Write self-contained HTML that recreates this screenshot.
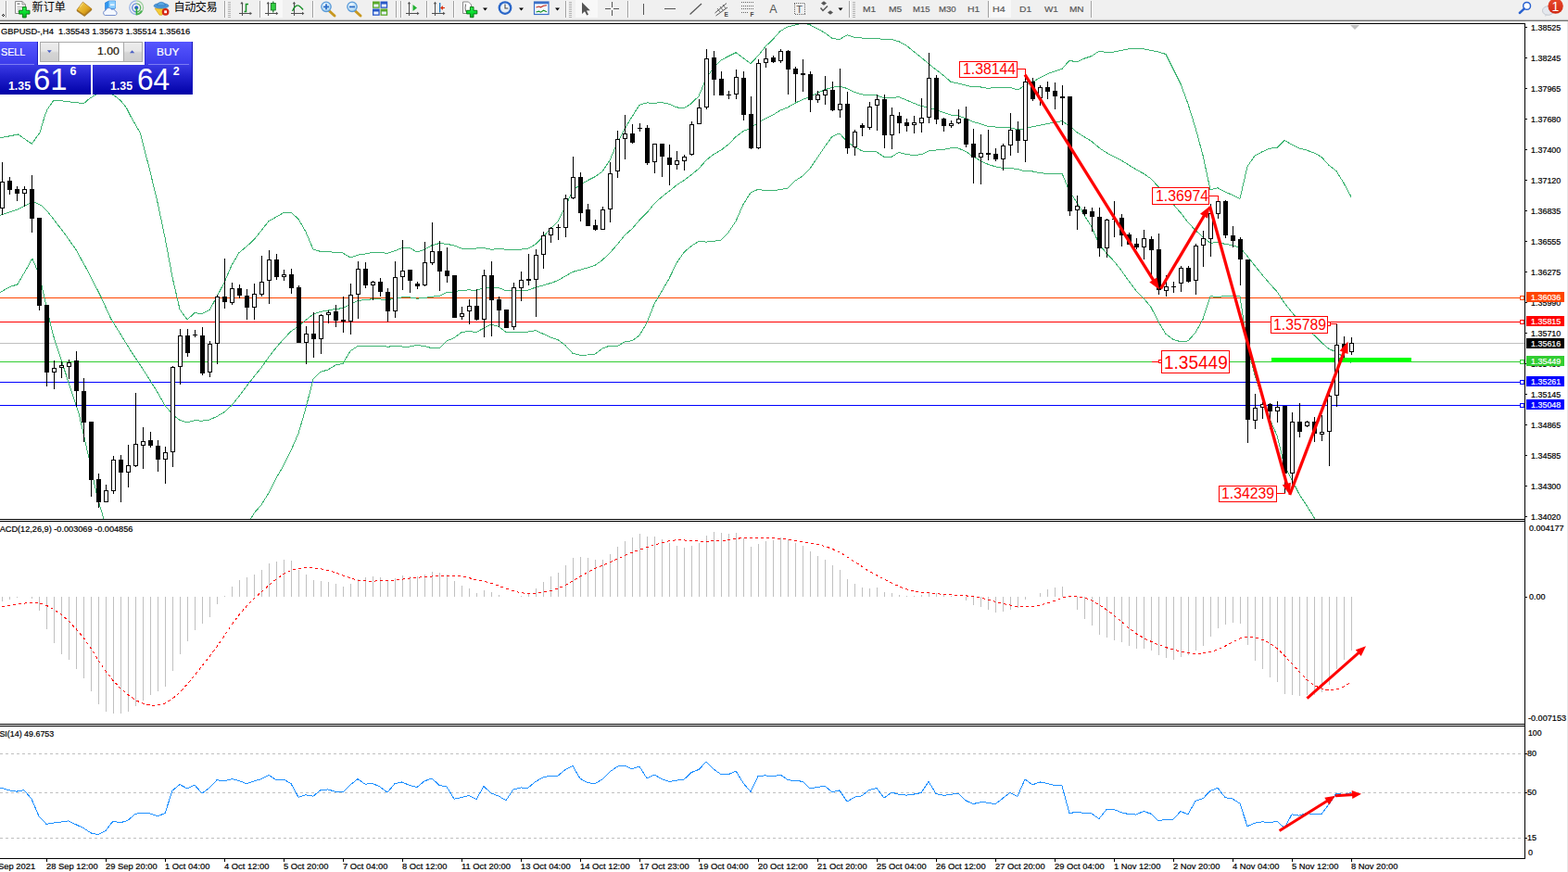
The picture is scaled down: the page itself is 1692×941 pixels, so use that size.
<!DOCTYPE html>
<html><head><meta charset="utf-8"><title>GBPUSD H4</title>
<style>
html,body{margin:0;padding:0;background:#fff;}
body{width:1692px;height:941px;position:relative;overflow:hidden;font-family:"Liberation Sans",sans-serif;}
.t{position:absolute;white-space:nowrap;font-family:"Liberation Sans",sans-serif;-webkit-text-stroke:0.2px currentColor;}
svg{position:absolute;left:0;top:0;}
#tb{position:absolute;left:0;top:0;width:1692px;height:23px;background:linear-gradient(#f0f0f0 0,#f0f0f0 20px,#ebebeb 20px,#ebebeb 21px,#c2c2c2 21px,#c2c2c2 22px,#6e6e6e 22px,#6e6e6e 23px);}
</style></head><body>
<div id="tb"></div>
<svg width="1692" height="941" viewBox="0 0 1692 941">
<g shape-rendering="crispEdges">
<rect x="0" y="23" width="1692" height="918" fill="#fff"/>
<rect x="1691" y="23" width="1" height="918" fill="#e6e6e6"/>
<rect x="0" y="25" width="1646" height="1" fill="#000"/>
<rect x="0" y="560" width="1646" height="1" fill="#000"/>
<rect x="0" y="562" width="1646" height="1" fill="#000"/>
<rect x="0" y="781" width="1646" height="1" fill="#000"/>
<rect x="0" y="783" width="1646" height="1" fill="#000"/>
<rect x="0" y="926" width="1646" height="1" fill="#000"/>
<rect x="1645" y="25" width="1" height="902" fill="#000"/>
<rect x="0" y="370" width="1645" height="1" fill="#C0C0C0"/>
<rect x="0" y="321" width="1645" height="1" fill="#FF4500"/>
<rect x="0" y="347" width="1645" height="1" fill="#FF0000"/>
<rect x="0" y="390" width="1645" height="1" fill="#32CD32"/>
<rect x="0" y="412" width="1645" height="1" fill="#0000FF"/>
<rect x="0" y="437" width="1645" height="1" fill="#0000FF"/>
</g>
<clipPath id="cm"><rect x="0" y="26" width="1645" height="534"/></clipPath>
<g clip-path="url(#cm)" fill="none" stroke="#3CB371" stroke-width="1" shape-rendering="crispEdges">
<path d="M0.0,148.9 L19.6,145.0 L34.2,155.3 L43.0,143.0 L48.4,124.8 L51.3,117.7 L57.3,109.2 L58.4,108.3 L62.6,108.3 L70.8,109.4 L78.9,110.4 L90.6,111.5 L96.7,106.3 L99.9,104.2 L106.0,101.0 L112.0,100.0 L119.0,101.0 L125.0,104.2 L130.7,109.2 L136.4,116.3 L140.6,124.8 L151.6,144.0 L154.0,154.0 L162.0,185.1 L170.0,218.5 L178.0,256.2 L186.0,299.0 L194.0,333.9 L202.0,345.0 L210.0,337.7 L218.0,338.5 L226.0,334.6 L234.0,320.2 L242.0,304.9 L250.0,286.2 L258.0,272.6 L266.0,266.1 L274.0,258.7 L282.0,248.7 L290.0,238.6 L298.0,234.2 L306.0,229.5 L314.0,229.1 L322.0,236.4 L330.0,250.2 L338.0,269.3 L346.0,271.4 L354.0,271.2 L362.0,272.7 L370.0,273.0 L378.0,278.0 L386.0,275.2 L394.0,274.0 L402.0,272.3 L410.0,272.7 L418.0,273.2 L426.0,270.6 L434.0,267.7 L442.0,267.5 L450.0,271.9 L458.0,269.3 L466.0,264.7 L474.0,262.6 L482.0,263.3 L490.0,264.9 L498.0,268.1 L506.0,268.5 L514.0,268.0 L522.0,267.6 L530.0,269.2 L538.0,268.7 L546.0,269.1 L554.0,269.3 L562.0,269.1 L570.0,268.2 L578.0,263.6 L586.0,255.5 L594.0,247.1 L602.0,238.9 L610.0,223.3 L618.0,205.5 L626.0,199.5 L634.0,194.8 L642.0,190.7 L650.0,185.1 L658.0,173.0 L666.0,154.4 L674.0,139.2 L682.0,126.0 L690.0,113.3 L698.0,110.9 L706.0,111.3 L714.0,110.6 L722.0,112.2 L730.0,115.8 L738.0,116.9 L746.0,111.6 L754.0,103.8 L762.0,84.8 L770.0,72.7 L778.0,65.1 L786.0,60.7 L794.0,56.7 L802.0,62.5 L810.0,68.6 L818.0,60.2 L826.0,50.2 L834.0,42.5 L842.0,33.6 L850.0,28.8 L858.0,27.1 L866.0,24.9 L874.0,26.8 L882.0,30.9 L890.0,35.4 L898.0,41.3 L906.0,42.6 L914.0,37.8 L922.0,40.3 L930.0,41.0 L938.0,41.3 L946.0,41.5 L954.0,42.5 L962.0,42.5 L970.0,44.8 L978.0,49.1 L986.0,55.6 L994.0,62.0 L1002.0,68.8 L1010.0,75.1 L1018.0,81.3 L1026.0,88.3 L1034.0,90.1 L1042.0,91.9 L1050.0,93.9 L1058.0,93.9 L1066.0,95.4 L1074.0,94.3 L1082.0,94.2 L1090.0,94.3 L1098.0,97.1 L1106.0,92.5 L1114.0,88.7 L1122.0,84.0 L1130.0,79.9 L1138.0,76.9 L1146.0,74.4 L1154.0,65.3 L1162.0,66.9 L1170.0,63.2 L1178.0,60.5 L1186.0,55.2 L1194.0,56.4 L1202.0,56.1 L1210.0,54.3 L1218.0,52.9 L1226.0,52.3 L1234.0,52.7 L1242.0,54.5 L1250.0,55.9 L1258.0,58.5 L1266.0,74.5 L1274.0,90.5 L1282.0,112.2 L1290.0,138.0 L1298.0,167.5 L1306.0,204.7 L1314.0,202.7 L1322.0,207.1 L1330.0,210.5 L1338.0,214.4 L1346.0,179.6 L1354.0,168.1 L1362.0,163.8 L1370.0,160.2 L1378.0,159.4 L1386.0,151.5 L1394.0,156.0 L1402.0,160.1 L1410.0,162.1 L1418.0,165.0 L1426.0,169.4 L1434.0,178.4 L1442.0,184.5 L1450.0,197.5 L1458.0,212.4"/>
<path d="M0.0,232.3 L9.0,229.5 L18.7,226.0 L27.0,222.0 L34.9,217.8 L38.0,218.3 L45.0,222.0 L51.0,228.0 L57.8,236.5 L70.0,252.5 L81.6,268.8 L95.0,293.0 L108.8,320.0 L119.4,343.4 L142.0,380.0 L154.0,398.1 L162.0,410.5 L170.0,423.5 L178.0,437.5 L186.0,447.1 L194.0,453.4 L202.0,455.9 L210.0,453.8 L218.0,454.1 L226.0,453.0 L234.0,449.4 L242.0,444.7 L250.0,437.4 L258.0,427.5 L266.0,417.0 L274.0,406.4 L282.0,396.8 L290.0,385.3 L298.0,375.1 L306.0,365.9 L314.0,357.6 L322.0,352.1 L330.0,345.3 L338.0,339.2 L346.0,336.4 L354.0,335.1 L362.0,333.4 L370.0,332.7 L378.0,328.4 L386.0,324.4 L394.0,323.7 L402.0,322.7 L410.0,322.9 L418.0,323.7 L426.0,322.1 L434.0,320.8 L442.0,320.8 L450.0,322.2 L458.0,321.4 L466.0,320.2 L474.0,319.3 L482.0,315.7 L490.0,314.8 L498.0,313.3 L506.0,312.9 L514.0,313.3 L522.0,310.9 L530.0,309.7 L538.0,310.5 L546.0,313.7 L554.0,313.9 L562.0,313.7 L570.0,313.1 L578.0,310.1 L586.0,307.9 L594.0,305.6 L602.0,302.8 L610.0,298.0 L618.0,293.4 L626.0,291.3 L634.0,288.9 L642.0,286.4 L650.0,280.6 L658.0,273.0 L666.0,264.0 L674.0,254.0 L682.0,246.9 L690.0,237.6 L698.0,229.7 L706.0,219.7 L714.0,212.6 L722.0,206.4 L730.0,199.9 L738.0,194.6 L746.0,188.6 L754.0,182.1 L762.0,172.9 L770.0,166.5 L778.0,162.1 L786.0,155.8 L794.0,147.7 L802.0,141.5 L810.0,138.2 L818.0,132.3 L826.0,127.9 L834.0,124.1 L842.0,119.1 L850.0,116.0 L858.0,111.2 L866.0,107.5 L874.0,104.4 L882.0,100.6 L890.0,96.8 L898.0,94.3 L906.0,93.2 L914.0,95.4 L922.0,99.3 L930.0,101.9 L938.0,102.5 L946.0,102.7 L954.0,105.9 L962.0,105.9 L970.0,104.6 L978.0,107.9 L986.0,111.4 L994.0,114.4 L1002.0,115.9 L1010.0,118.6 L1018.0,121.4 L1026.0,124.0 L1034.0,125.0 L1042.0,127.7 L1050.0,131.3 L1058.0,133.7 L1066.0,136.4 L1074.0,137.0 L1082.0,137.8 L1090.0,137.9 L1098.0,139.8 L1106.0,138.8 L1114.0,136.8 L1122.0,135.3 L1130.0,133.6 L1138.0,132.1 L1146.0,130.7 L1154.0,135.8 L1162.0,142.6 L1170.0,147.7 L1178.0,152.6 L1186.0,159.4 L1194.0,164.8 L1202.0,168.9 L1210.0,173.1 L1218.0,178.0 L1226.0,183.0 L1234.0,187.3 L1242.0,192.9 L1250.0,201.6 L1258.0,209.4 L1266.0,220.5 L1274.0,229.6 L1282.0,240.1 L1290.0,248.4 L1298.0,256.0 L1306.0,262.2 L1314.0,261.7 L1322.0,263.3 L1330.0,264.8 L1338.0,267.1 L1346.0,276.4 L1354.0,286.6 L1362.0,296.5 L1370.0,306.0 L1378.0,314.7 L1386.0,327.0 L1394.0,336.9 L1402.0,346.7 L1410.0,353.8 L1418.0,361.7 L1426.0,369.6 L1434.0,376.5 L1442.0,379.9 L1450.0,385.6 L1458.0,391.3"/>
<path d="M0.0,315.6 L10.2,309.7 L18.7,307.0 L27.0,293.0 L34.9,279.0 L40.0,291.0 L45.0,308.0 L47.6,320.0 L57.0,360.4 L68.0,394.5 L85.0,445.7 L96.6,497.0 L105.0,536.7 L111.0,556.6 L125.0,610.0 L154.0,634.5 L162.0,631.8 L170.0,628.4 L178.0,618.7 L186.0,595.1 L194.0,572.8 L202.0,566.7 L210.0,570.0 L218.0,569.7 L226.0,571.4 L234.0,578.7 L242.0,584.4 L250.0,588.6 L258.0,582.4 L266.0,567.9 L274.0,554.0 L282.0,544.8 L290.0,531.9 L298.0,516.0 L306.0,502.3 L314.0,486.1 L322.0,467.8 L330.0,440.4 L338.0,409.1 L346.0,401.3 L354.0,399.0 L362.0,394.0 L370.0,392.4 L378.0,378.9 L386.0,373.5 L394.0,373.4 L402.0,373.1 L410.0,373.1 L418.0,374.2 L426.0,373.6 L434.0,374.0 L442.0,374.0 L450.0,372.5 L458.0,373.5 L466.0,375.7 L474.0,375.9 L482.0,368.0 L490.0,364.6 L498.0,358.6 L506.0,357.3 L514.0,358.6 L522.0,354.1 L530.0,350.1 L538.0,352.3 L546.0,358.3 L554.0,358.4 L562.0,358.4 L570.0,358.0 L578.0,356.6 L586.0,360.2 L594.0,364.1 L602.0,366.7 L610.0,372.7 L618.0,381.3 L626.0,383.2 L634.0,383.0 L642.0,382.1 L650.0,376.1 L658.0,373.1 L666.0,373.7 L674.0,368.9 L682.0,367.8 L690.0,361.9 L698.0,348.4 L706.0,328.0 L714.0,314.6 L722.0,300.7 L730.0,284.1 L738.0,272.3 L746.0,265.5 L754.0,260.3 L762.0,261.1 L770.0,260.3 L778.0,259.1 L786.0,250.8 L794.0,238.7 L802.0,220.6 L810.0,207.8 L818.0,204.4 L826.0,205.6 L834.0,205.6 L842.0,204.7 L850.0,203.1 L858.0,195.2 L866.0,190.0 L874.0,181.9 L882.0,170.3 L890.0,158.2 L898.0,147.3 L906.0,143.9 L914.0,153.0 L922.0,158.4 L930.0,162.9 L938.0,163.7 L946.0,164.0 L954.0,169.3 L962.0,169.3 L970.0,164.3 L978.0,166.7 L986.0,167.3 L994.0,166.8 L1002.0,163.0 L1010.0,162.0 L1018.0,161.5 L1026.0,159.7 L1034.0,159.9 L1042.0,163.4 L1050.0,168.8 L1058.0,173.4 L1066.0,177.3 L1074.0,179.8 L1082.0,181.3 L1090.0,181.5 L1098.0,182.4 L1106.0,185.0 L1114.0,184.9 L1122.0,186.6 L1130.0,187.4 L1138.0,187.3 L1146.0,187.1 L1154.0,206.2 L1162.0,218.4 L1170.0,232.2 L1178.0,244.8 L1186.0,263.6 L1194.0,273.3 L1202.0,281.8 L1210.0,291.8 L1218.0,303.2 L1226.0,313.8 L1234.0,321.8 L1242.0,331.4 L1250.0,347.3 L1258.0,360.4 L1266.0,366.5 L1274.0,368.7 L1282.0,367.9 L1290.0,358.8 L1298.0,344.5 L1306.0,319.7 L1314.0,320.6 L1322.0,319.5 L1330.0,319.0 L1338.0,319.8 L1346.0,373.2 L1354.0,405.0 L1362.0,429.1 L1370.0,451.8 L1378.0,470.1 L1386.0,502.5 L1394.0,517.8 L1402.0,533.3 L1410.0,545.5 L1418.0,558.5 L1426.0,569.8 L1434.0,574.6 L1442.0,575.2 L1450.0,573.7 L1458.0,570.1"/>
</g>
<rect x="1372" y="386" width="151" height="5" fill="#00FF00" shape-rendering="crispEdges"/>
<g shape-rendering="crispEdges">
<rect x="2" y="175" width="1" height="57" fill="#000"/>
<rect x="0" y="196" width="5" height="29" fill="#000"/>
<rect x="1" y="197" width="3" height="27" fill="#fff"/>
<rect x="10" y="191" width="1" height="19" fill="#000"/>
<rect x="8" y="195" width="5" height="10" fill="#000"/>
<rect x="18" y="201" width="1" height="16" fill="#000"/>
<rect x="16" y="204" width="5" height="5" fill="#000"/>
<rect x="26" y="201" width="1" height="22" fill="#000"/>
<rect x="24" y="204" width="5" height="5" fill="#000"/>
<rect x="25" y="205" width="3" height="3" fill="#fff"/>
<rect x="34" y="189" width="1" height="62" fill="#000"/>
<rect x="32" y="204" width="5" height="32" fill="#000"/>
<rect x="42" y="235" width="1" height="100" fill="#000"/>
<rect x="40" y="235" width="5" height="95" fill="#000"/>
<rect x="50" y="329" width="1" height="88" fill="#000"/>
<rect x="48" y="329" width="5" height="73" fill="#000"/>
<rect x="58" y="389" width="1" height="31" fill="#000"/>
<rect x="56" y="397" width="5" height="5" fill="#000"/>
<rect x="57" y="398" width="3" height="3" fill="#fff"/>
<rect x="66" y="390" width="1" height="18" fill="#000"/>
<rect x="64" y="394" width="5" height="3" fill="#000"/>
<rect x="65" y="395" width="3" height="1" fill="#fff"/>
<rect x="74" y="388" width="1" height="21" fill="#000"/>
<rect x="72" y="391" width="5" height="5" fill="#000"/>
<rect x="73" y="392" width="3" height="3" fill="#fff"/>
<rect x="82" y="379" width="1" height="60" fill="#000"/>
<rect x="80" y="389" width="5" height="33" fill="#000"/>
<rect x="90" y="408" width="1" height="69" fill="#000"/>
<rect x="88" y="422" width="5" height="34" fill="#000"/>
<rect x="98" y="455" width="1" height="81" fill="#000"/>
<rect x="96" y="455" width="5" height="63" fill="#000"/>
<rect x="106" y="511" width="1" height="37" fill="#000"/>
<rect x="104" y="517" width="5" height="25" fill="#000"/>
<rect x="114" y="523" width="1" height="19" fill="#000"/>
<rect x="112" y="529" width="5" height="13" fill="#000"/>
<rect x="113" y="530" width="3" height="11" fill="#fff"/>
<rect x="122" y="492" width="1" height="41" fill="#000"/>
<rect x="120" y="496" width="5" height="34" fill="#000"/>
<rect x="121" y="497" width="3" height="32" fill="#fff"/>
<rect x="130" y="491" width="1" height="51" fill="#000"/>
<rect x="128" y="496" width="5" height="14" fill="#000"/>
<rect x="138" y="480" width="1" height="46" fill="#000"/>
<rect x="136" y="502" width="5" height="8" fill="#000"/>
<rect x="137" y="503" width="3" height="6" fill="#fff"/>
<rect x="146" y="424" width="1" height="80" fill="#000"/>
<rect x="144" y="479" width="5" height="24" fill="#000"/>
<rect x="145" y="480" width="3" height="22" fill="#fff"/>
<rect x="154" y="461" width="1" height="45" fill="#000"/>
<rect x="152" y="476" width="5" height="5" fill="#000"/>
<rect x="153" y="477" width="3" height="3" fill="#fff"/>
<rect x="162" y="466" width="1" height="17" fill="#000"/>
<rect x="160" y="475" width="5" height="6" fill="#000"/>
<rect x="170" y="475" width="1" height="34" fill="#000"/>
<rect x="168" y="481" width="5" height="15" fill="#000"/>
<rect x="178" y="482" width="1" height="40" fill="#000"/>
<rect x="176" y="488" width="5" height="8" fill="#000"/>
<rect x="177" y="489" width="3" height="6" fill="#fff"/>
<rect x="186" y="395" width="1" height="109" fill="#000"/>
<rect x="184" y="396" width="5" height="92" fill="#000"/>
<rect x="185" y="397" width="3" height="90" fill="#fff"/>
<rect x="194" y="355" width="1" height="60" fill="#000"/>
<rect x="192" y="362" width="5" height="34" fill="#000"/>
<rect x="193" y="363" width="3" height="32" fill="#fff"/>
<rect x="202" y="355" width="1" height="30" fill="#000"/>
<rect x="200" y="362" width="5" height="19" fill="#000"/>
<rect x="210" y="356" width="1" height="8" fill="#000"/>
<rect x="208" y="361" width="5" height="1" fill="#000"/>
<rect x="218" y="353" width="1" height="52" fill="#000"/>
<rect x="216" y="362" width="5" height="41" fill="#000"/>
<rect x="226" y="368" width="1" height="39" fill="#000"/>
<rect x="224" y="371" width="5" height="31" fill="#000"/>
<rect x="225" y="372" width="3" height="29" fill="#fff"/>
<rect x="234" y="318" width="1" height="75" fill="#000"/>
<rect x="232" y="320" width="5" height="51" fill="#000"/>
<rect x="233" y="321" width="3" height="49" fill="#fff"/>
<rect x="242" y="279" width="1" height="54" fill="#000"/>
<rect x="240" y="320" width="5" height="6" fill="#000"/>
<rect x="250" y="305" width="1" height="24" fill="#000"/>
<rect x="248" y="311" width="5" height="16" fill="#000"/>
<rect x="249" y="312" width="3" height="14" fill="#fff"/>
<rect x="258" y="307" width="1" height="15" fill="#000"/>
<rect x="256" y="311" width="5" height="8" fill="#000"/>
<rect x="266" y="312" width="1" height="33" fill="#000"/>
<rect x="264" y="319" width="5" height="13" fill="#000"/>
<rect x="274" y="306" width="1" height="39" fill="#000"/>
<rect x="272" y="317" width="5" height="15" fill="#000"/>
<rect x="273" y="318" width="3" height="13" fill="#fff"/>
<rect x="282" y="276" width="1" height="44" fill="#000"/>
<rect x="280" y="304" width="5" height="14" fill="#000"/>
<rect x="281" y="305" width="3" height="12" fill="#fff"/>
<rect x="290" y="270" width="1" height="58" fill="#000"/>
<rect x="288" y="280" width="5" height="23" fill="#000"/>
<rect x="289" y="281" width="3" height="21" fill="#fff"/>
<rect x="298" y="274" width="1" height="28" fill="#000"/>
<rect x="296" y="280" width="5" height="19" fill="#000"/>
<rect x="306" y="291" width="1" height="12" fill="#000"/>
<rect x="304" y="296" width="5" height="3" fill="#000"/>
<rect x="305" y="297" width="3" height="1" fill="#fff"/>
<rect x="314" y="290" width="1" height="27" fill="#000"/>
<rect x="312" y="296" width="5" height="15" fill="#000"/>
<rect x="322" y="308" width="1" height="62" fill="#000"/>
<rect x="320" y="310" width="5" height="60" fill="#000"/>
<rect x="330" y="352" width="1" height="41" fill="#000"/>
<rect x="328" y="360" width="5" height="10" fill="#000"/>
<rect x="329" y="361" width="3" height="8" fill="#fff"/>
<rect x="338" y="337" width="1" height="49" fill="#000"/>
<rect x="336" y="360" width="5" height="6" fill="#000"/>
<rect x="346" y="339" width="1" height="43" fill="#000"/>
<rect x="344" y="340" width="5" height="26" fill="#000"/>
<rect x="345" y="341" width="3" height="24" fill="#fff"/>
<rect x="354" y="335" width="1" height="14" fill="#000"/>
<rect x="352" y="337" width="5" height="3" fill="#000"/>
<rect x="353" y="338" width="3" height="1" fill="#fff"/>
<rect x="362" y="329" width="1" height="24" fill="#000"/>
<rect x="360" y="336" width="5" height="10" fill="#000"/>
<rect x="370" y="320" width="1" height="39" fill="#000"/>
<rect x="368" y="345" width="5" height="2" fill="#000"/>
<rect x="378" y="306" width="1" height="55" fill="#000"/>
<rect x="376" y="318" width="5" height="29" fill="#000"/>
<rect x="377" y="319" width="3" height="27" fill="#fff"/>
<rect x="386" y="282" width="1" height="62" fill="#000"/>
<rect x="384" y="290" width="5" height="28" fill="#000"/>
<rect x="385" y="291" width="3" height="26" fill="#fff"/>
<rect x="394" y="283" width="1" height="28" fill="#000"/>
<rect x="392" y="290" width="5" height="18" fill="#000"/>
<rect x="402" y="303" width="1" height="21" fill="#000"/>
<rect x="400" y="304" width="5" height="4" fill="#000"/>
<rect x="401" y="305" width="3" height="2" fill="#fff"/>
<rect x="410" y="300" width="1" height="20" fill="#000"/>
<rect x="408" y="304" width="5" height="11" fill="#000"/>
<rect x="418" y="311" width="1" height="36" fill="#000"/>
<rect x="416" y="315" width="5" height="21" fill="#000"/>
<rect x="426" y="282" width="1" height="61" fill="#000"/>
<rect x="424" y="299" width="5" height="37" fill="#000"/>
<rect x="425" y="300" width="3" height="35" fill="#fff"/>
<rect x="434" y="259" width="1" height="54" fill="#000"/>
<rect x="432" y="292" width="5" height="7" fill="#000"/>
<rect x="433" y="293" width="3" height="5" fill="#fff"/>
<rect x="442" y="291" width="1" height="25" fill="#000"/>
<rect x="440" y="291" width="5" height="12" fill="#000"/>
<rect x="450" y="304" width="1" height="8" fill="#000"/>
<rect x="448" y="306" width="5" height="3" fill="#000"/>
<rect x="458" y="261" width="1" height="48" fill="#000"/>
<rect x="456" y="283" width="5" height="25" fill="#000"/>
<rect x="457" y="284" width="3" height="23" fill="#fff"/>
<rect x="466" y="240" width="1" height="46" fill="#000"/>
<rect x="464" y="271" width="5" height="13" fill="#000"/>
<rect x="465" y="272" width="3" height="11" fill="#fff"/>
<rect x="474" y="260" width="1" height="54" fill="#000"/>
<rect x="472" y="271" width="5" height="22" fill="#000"/>
<rect x="482" y="267" width="1" height="38" fill="#000"/>
<rect x="480" y="292" width="5" height="6" fill="#000"/>
<rect x="490" y="297" width="1" height="46" fill="#000"/>
<rect x="488" y="297" width="5" height="46" fill="#000"/>
<rect x="498" y="331" width="1" height="14" fill="#000"/>
<rect x="496" y="338" width="5" height="4" fill="#000"/>
<rect x="497" y="339" width="3" height="2" fill="#fff"/>
<rect x="506" y="323" width="1" height="27" fill="#000"/>
<rect x="504" y="330" width="5" height="6" fill="#000"/>
<rect x="505" y="331" width="3" height="4" fill="#fff"/>
<rect x="514" y="312" width="1" height="34" fill="#000"/>
<rect x="512" y="330" width="5" height="15" fill="#000"/>
<rect x="522" y="291" width="1" height="73" fill="#000"/>
<rect x="520" y="297" width="5" height="48" fill="#000"/>
<rect x="521" y="298" width="3" height="46" fill="#fff"/>
<rect x="530" y="282" width="1" height="81" fill="#000"/>
<rect x="528" y="297" width="5" height="27" fill="#000"/>
<rect x="538" y="320" width="1" height="33" fill="#000"/>
<rect x="536" y="323" width="5" height="12" fill="#000"/>
<rect x="546" y="334" width="1" height="20" fill="#000"/>
<rect x="544" y="334" width="5" height="20" fill="#000"/>
<rect x="554" y="305" width="1" height="51" fill="#000"/>
<rect x="552" y="310" width="5" height="43" fill="#000"/>
<rect x="553" y="311" width="3" height="41" fill="#fff"/>
<rect x="562" y="293" width="1" height="32" fill="#000"/>
<rect x="560" y="302" width="5" height="9" fill="#000"/>
<rect x="561" y="303" width="3" height="7" fill="#fff"/>
<rect x="570" y="274" width="1" height="34" fill="#000"/>
<rect x="568" y="301" width="5" height="2" fill="#000"/>
<rect x="578" y="269" width="1" height="73" fill="#000"/>
<rect x="576" y="275" width="5" height="27" fill="#000"/>
<rect x="577" y="276" width="3" height="25" fill="#fff"/>
<rect x="586" y="250" width="1" height="40" fill="#000"/>
<rect x="584" y="254" width="5" height="21" fill="#000"/>
<rect x="585" y="255" width="3" height="19" fill="#fff"/>
<rect x="594" y="245" width="1" height="17" fill="#000"/>
<rect x="592" y="246" width="5" height="8" fill="#000"/>
<rect x="593" y="247" width="3" height="6" fill="#fff"/>
<rect x="602" y="242" width="1" height="17" fill="#000"/>
<rect x="600" y="245" width="5" height="1" fill="#000"/>
<rect x="610" y="210" width="1" height="46" fill="#000"/>
<rect x="608" y="214" width="5" height="32" fill="#000"/>
<rect x="609" y="215" width="3" height="30" fill="#fff"/>
<rect x="618" y="169" width="1" height="46" fill="#000"/>
<rect x="616" y="191" width="5" height="23" fill="#000"/>
<rect x="617" y="192" width="3" height="21" fill="#fff"/>
<rect x="626" y="186" width="1" height="53" fill="#000"/>
<rect x="624" y="191" width="5" height="39" fill="#000"/>
<rect x="634" y="220" width="1" height="24" fill="#000"/>
<rect x="632" y="226" width="5" height="18" fill="#000"/>
<rect x="642" y="237" width="1" height="12" fill="#000"/>
<rect x="640" y="243" width="5" height="5" fill="#000"/>
<rect x="650" y="223" width="1" height="25" fill="#000"/>
<rect x="648" y="226" width="5" height="22" fill="#000"/>
<rect x="649" y="227" width="3" height="20" fill="#fff"/>
<rect x="658" y="175" width="1" height="65" fill="#000"/>
<rect x="656" y="187" width="5" height="39" fill="#000"/>
<rect x="657" y="188" width="3" height="37" fill="#fff"/>
<rect x="666" y="141" width="1" height="51" fill="#000"/>
<rect x="664" y="150" width="5" height="35" fill="#000"/>
<rect x="665" y="151" width="3" height="33" fill="#fff"/>
<rect x="674" y="124" width="1" height="48" fill="#000"/>
<rect x="672" y="144" width="5" height="6" fill="#000"/>
<rect x="673" y="145" width="3" height="4" fill="#fff"/>
<rect x="682" y="134" width="1" height="21" fill="#000"/>
<rect x="680" y="144" width="5" height="10" fill="#000"/>
<rect x="690" y="133" width="1" height="9" fill="#000"/>
<rect x="688" y="138" width="5" height="1" fill="#000"/>
<rect x="698" y="135" width="1" height="43" fill="#000"/>
<rect x="696" y="138" width="5" height="38" fill="#000"/>
<rect x="706" y="155" width="1" height="32" fill="#000"/>
<rect x="704" y="155" width="5" height="20" fill="#000"/>
<rect x="705" y="156" width="3" height="18" fill="#fff"/>
<rect x="714" y="155" width="1" height="36" fill="#000"/>
<rect x="712" y="155" width="5" height="14" fill="#000"/>
<rect x="722" y="156" width="1" height="44" fill="#000"/>
<rect x="720" y="170" width="5" height="8" fill="#000"/>
<rect x="730" y="163" width="1" height="20" fill="#000"/>
<rect x="728" y="173" width="5" height="5" fill="#000"/>
<rect x="729" y="174" width="3" height="3" fill="#fff"/>
<rect x="738" y="167" width="1" height="17" fill="#000"/>
<rect x="736" y="169" width="5" height="5" fill="#000"/>
<rect x="737" y="170" width="3" height="3" fill="#fff"/>
<rect x="746" y="131" width="1" height="37" fill="#000"/>
<rect x="744" y="134" width="5" height="33" fill="#000"/>
<rect x="745" y="135" width="3" height="31" fill="#fff"/>
<rect x="754" y="107" width="1" height="27" fill="#000"/>
<rect x="752" y="116" width="5" height="18" fill="#000"/>
<rect x="753" y="117" width="3" height="16" fill="#fff"/>
<rect x="762" y="53" width="1" height="65" fill="#000"/>
<rect x="760" y="63" width="5" height="53" fill="#000"/>
<rect x="761" y="64" width="3" height="51" fill="#fff"/>
<rect x="770" y="55" width="1" height="48" fill="#000"/>
<rect x="768" y="62" width="5" height="24" fill="#000"/>
<rect x="778" y="77" width="1" height="26" fill="#000"/>
<rect x="776" y="85" width="5" height="18" fill="#000"/>
<rect x="786" y="98" width="1" height="9" fill="#000"/>
<rect x="784" y="102" width="5" height="1" fill="#000"/>
<rect x="794" y="75" width="1" height="32" fill="#000"/>
<rect x="792" y="83" width="5" height="19" fill="#000"/>
<rect x="793" y="84" width="3" height="17" fill="#fff"/>
<rect x="802" y="77" width="1" height="53" fill="#000"/>
<rect x="800" y="84" width="5" height="40" fill="#000"/>
<rect x="810" y="104" width="1" height="57" fill="#000"/>
<rect x="808" y="123" width="5" height="37" fill="#000"/>
<rect x="818" y="64" width="1" height="97" fill="#000"/>
<rect x="816" y="68" width="5" height="92" fill="#000"/>
<rect x="817" y="69" width="3" height="90" fill="#fff"/>
<rect x="826" y="52" width="1" height="21" fill="#000"/>
<rect x="824" y="63" width="5" height="5" fill="#000"/>
<rect x="825" y="64" width="3" height="3" fill="#fff"/>
<rect x="834" y="60" width="1" height="8" fill="#000"/>
<rect x="832" y="62" width="5" height="5" fill="#000"/>
<rect x="842" y="53" width="1" height="15" fill="#000"/>
<rect x="840" y="55" width="5" height="11" fill="#000"/>
<rect x="841" y="56" width="3" height="9" fill="#fff"/>
<rect x="850" y="54" width="1" height="48" fill="#000"/>
<rect x="848" y="55" width="5" height="20" fill="#000"/>
<rect x="858" y="72" width="1" height="38" fill="#000"/>
<rect x="856" y="74" width="5" height="6" fill="#000"/>
<rect x="866" y="64" width="1" height="35" fill="#000"/>
<rect x="864" y="79" width="5" height="2" fill="#000"/>
<rect x="874" y="77" width="1" height="44" fill="#000"/>
<rect x="872" y="80" width="5" height="28" fill="#000"/>
<rect x="882" y="98" width="1" height="13" fill="#000"/>
<rect x="880" y="102" width="5" height="6" fill="#000"/>
<rect x="881" y="103" width="3" height="4" fill="#fff"/>
<rect x="890" y="82" width="1" height="31" fill="#000"/>
<rect x="888" y="97" width="5" height="6" fill="#000"/>
<rect x="889" y="98" width="3" height="4" fill="#fff"/>
<rect x="898" y="88" width="1" height="32" fill="#000"/>
<rect x="896" y="97" width="5" height="22" fill="#000"/>
<rect x="906" y="74" width="1" height="53" fill="#000"/>
<rect x="904" y="112" width="5" height="7" fill="#000"/>
<rect x="905" y="113" width="3" height="5" fill="#fff"/>
<rect x="914" y="99" width="1" height="67" fill="#000"/>
<rect x="912" y="112" width="5" height="48" fill="#000"/>
<rect x="922" y="140" width="1" height="28" fill="#000"/>
<rect x="920" y="142" width="5" height="17" fill="#000"/>
<rect x="921" y="143" width="3" height="15" fill="#fff"/>
<rect x="930" y="133" width="1" height="14" fill="#000"/>
<rect x="928" y="135" width="5" height="3" fill="#000"/>
<rect x="938" y="110" width="1" height="30" fill="#000"/>
<rect x="936" y="115" width="5" height="23" fill="#000"/>
<rect x="937" y="116" width="3" height="21" fill="#fff"/>
<rect x="946" y="102" width="1" height="39" fill="#000"/>
<rect x="944" y="107" width="5" height="7" fill="#000"/>
<rect x="945" y="108" width="3" height="5" fill="#fff"/>
<rect x="954" y="102" width="1" height="58" fill="#000"/>
<rect x="952" y="107" width="5" height="39" fill="#000"/>
<rect x="962" y="116" width="1" height="45" fill="#000"/>
<rect x="960" y="124" width="5" height="22" fill="#000"/>
<rect x="961" y="125" width="3" height="20" fill="#fff"/>
<rect x="970" y="121" width="1" height="23" fill="#000"/>
<rect x="968" y="125" width="5" height="8" fill="#000"/>
<rect x="978" y="128" width="1" height="14" fill="#000"/>
<rect x="976" y="132" width="5" height="4" fill="#000"/>
<rect x="986" y="125" width="1" height="19" fill="#000"/>
<rect x="984" y="132" width="5" height="3" fill="#000"/>
<rect x="985" y="133" width="3" height="1" fill="#fff"/>
<rect x="994" y="106" width="1" height="37" fill="#000"/>
<rect x="992" y="127" width="5" height="6" fill="#000"/>
<rect x="993" y="128" width="3" height="4" fill="#fff"/>
<rect x="1002" y="57" width="1" height="76" fill="#000"/>
<rect x="1000" y="84" width="5" height="43" fill="#000"/>
<rect x="1001" y="85" width="3" height="41" fill="#fff"/>
<rect x="1010" y="81" width="1" height="53" fill="#000"/>
<rect x="1008" y="84" width="5" height="45" fill="#000"/>
<rect x="1018" y="127" width="1" height="15" fill="#000"/>
<rect x="1016" y="128" width="5" height="8" fill="#000"/>
<rect x="1026" y="130" width="1" height="8" fill="#000"/>
<rect x="1024" y="133" width="5" height="3" fill="#000"/>
<rect x="1025" y="134" width="3" height="1" fill="#fff"/>
<rect x="1034" y="118" width="1" height="16" fill="#000"/>
<rect x="1032" y="128" width="5" height="5" fill="#000"/>
<rect x="1033" y="129" width="3" height="3" fill="#fff"/>
<rect x="1042" y="115" width="1" height="44" fill="#000"/>
<rect x="1040" y="128" width="5" height="28" fill="#000"/>
<rect x="1050" y="139" width="1" height="59" fill="#000"/>
<rect x="1048" y="155" width="5" height="15" fill="#000"/>
<rect x="1058" y="145" width="1" height="54" fill="#000"/>
<rect x="1056" y="165" width="5" height="5" fill="#000"/>
<rect x="1057" y="166" width="3" height="3" fill="#fff"/>
<rect x="1066" y="140" width="1" height="33" fill="#000"/>
<rect x="1064" y="165" width="5" height="2" fill="#000"/>
<rect x="1074" y="160" width="1" height="14" fill="#000"/>
<rect x="1072" y="166" width="5" height="6" fill="#000"/>
<rect x="1082" y="155" width="1" height="29" fill="#000"/>
<rect x="1080" y="157" width="5" height="15" fill="#000"/>
<rect x="1081" y="158" width="3" height="13" fill="#fff"/>
<rect x="1090" y="122" width="1" height="46" fill="#000"/>
<rect x="1088" y="140" width="5" height="17" fill="#000"/>
<rect x="1089" y="141" width="3" height="15" fill="#fff"/>
<rect x="1098" y="131" width="1" height="34" fill="#000"/>
<rect x="1096" y="140" width="5" height="12" fill="#000"/>
<rect x="1106" y="82" width="1" height="93" fill="#000"/>
<rect x="1104" y="88" width="5" height="64" fill="#000"/>
<rect x="1105" y="89" width="3" height="62" fill="#fff"/>
<rect x="1114" y="84" width="1" height="25" fill="#000"/>
<rect x="1112" y="88" width="5" height="19" fill="#000"/>
<rect x="1122" y="92" width="1" height="22" fill="#000"/>
<rect x="1120" y="94" width="5" height="12" fill="#000"/>
<rect x="1121" y="95" width="3" height="10" fill="#fff"/>
<rect x="1130" y="88" width="1" height="19" fill="#000"/>
<rect x="1128" y="94" width="5" height="5" fill="#000"/>
<rect x="1138" y="89" width="1" height="29" fill="#000"/>
<rect x="1136" y="98" width="5" height="6" fill="#000"/>
<rect x="1146" y="92" width="1" height="43" fill="#000"/>
<rect x="1144" y="104" width="5" height="2" fill="#000"/>
<rect x="1154" y="104" width="1" height="129" fill="#000"/>
<rect x="1152" y="104" width="5" height="124" fill="#000"/>
<rect x="1162" y="211" width="1" height="37" fill="#000"/>
<rect x="1160" y="222" width="5" height="5" fill="#000"/>
<rect x="1161" y="223" width="3" height="3" fill="#fff"/>
<rect x="1170" y="223" width="1" height="10" fill="#000"/>
<rect x="1168" y="226" width="5" height="5" fill="#000"/>
<rect x="1178" y="224" width="1" height="26" fill="#000"/>
<rect x="1176" y="228" width="5" height="6" fill="#000"/>
<rect x="1186" y="224" width="1" height="53" fill="#000"/>
<rect x="1184" y="234" width="5" height="34" fill="#000"/>
<rect x="1194" y="236" width="1" height="42" fill="#000"/>
<rect x="1192" y="237" width="5" height="31" fill="#000"/>
<rect x="1193" y="238" width="3" height="29" fill="#fff"/>
<rect x="1202" y="217" width="1" height="39" fill="#000"/>
<rect x="1200" y="236" width="5" height="1" fill="#000"/>
<rect x="1210" y="231" width="1" height="35" fill="#000"/>
<rect x="1208" y="235" width="5" height="19" fill="#000"/>
<rect x="1218" y="251" width="1" height="13" fill="#000"/>
<rect x="1216" y="253" width="5" height="11" fill="#000"/>
<rect x="1226" y="257" width="1" height="12" fill="#000"/>
<rect x="1224" y="263" width="5" height="4" fill="#000"/>
<rect x="1234" y="248" width="1" height="32" fill="#000"/>
<rect x="1232" y="257" width="5" height="10" fill="#000"/>
<rect x="1233" y="258" width="3" height="8" fill="#fff"/>
<rect x="1242" y="255" width="1" height="43" fill="#000"/>
<rect x="1240" y="258" width="5" height="12" fill="#000"/>
<rect x="1250" y="252" width="1" height="66" fill="#000"/>
<rect x="1248" y="269" width="5" height="44" fill="#000"/>
<rect x="1258" y="297" width="1" height="23" fill="#000"/>
<rect x="1256" y="309" width="5" height="5" fill="#000"/>
<rect x="1257" y="310" width="3" height="3" fill="#fff"/>
<rect x="1266" y="304" width="1" height="12" fill="#000"/>
<rect x="1264" y="309" width="5" height="1" fill="#000"/>
<rect x="1274" y="287" width="1" height="28" fill="#000"/>
<rect x="1272" y="289" width="5" height="17" fill="#000"/>
<rect x="1273" y="290" width="3" height="15" fill="#fff"/>
<rect x="1282" y="287" width="1" height="18" fill="#000"/>
<rect x="1280" y="289" width="5" height="15" fill="#000"/>
<rect x="1290" y="263" width="1" height="55" fill="#000"/>
<rect x="1288" y="265" width="5" height="38" fill="#000"/>
<rect x="1289" y="266" width="3" height="36" fill="#fff"/>
<rect x="1298" y="249" width="1" height="39" fill="#000"/>
<rect x="1296" y="257" width="5" height="8" fill="#000"/>
<rect x="1297" y="258" width="3" height="6" fill="#fff"/>
<rect x="1306" y="220" width="1" height="57" fill="#000"/>
<rect x="1304" y="230" width="5" height="28" fill="#000"/>
<rect x="1305" y="231" width="3" height="26" fill="#fff"/>
<rect x="1314" y="211" width="1" height="25" fill="#000"/>
<rect x="1312" y="217" width="5" height="14" fill="#000"/>
<rect x="1313" y="218" width="3" height="12" fill="#fff"/>
<rect x="1322" y="216" width="1" height="41" fill="#000"/>
<rect x="1320" y="217" width="5" height="37" fill="#000"/>
<rect x="1330" y="244" width="1" height="23" fill="#000"/>
<rect x="1328" y="254" width="5" height="6" fill="#000"/>
<rect x="1338" y="256" width="1" height="52" fill="#000"/>
<rect x="1336" y="258" width="5" height="22" fill="#000"/>
<rect x="1346" y="280" width="1" height="198" fill="#000"/>
<rect x="1344" y="280" width="5" height="173" fill="#000"/>
<rect x="1354" y="425" width="1" height="38" fill="#000"/>
<rect x="1352" y="440" width="5" height="14" fill="#000"/>
<rect x="1353" y="441" width="3" height="12" fill="#fff"/>
<rect x="1362" y="434" width="1" height="18" fill="#000"/>
<rect x="1360" y="436" width="5" height="4" fill="#000"/>
<rect x="1361" y="437" width="3" height="2" fill="#fff"/>
<rect x="1370" y="435" width="1" height="28" fill="#000"/>
<rect x="1368" y="436" width="5" height="8" fill="#000"/>
<rect x="1378" y="433" width="1" height="23" fill="#000"/>
<rect x="1376" y="439" width="5" height="5" fill="#000"/>
<rect x="1377" y="440" width="3" height="3" fill="#fff"/>
<rect x="1386" y="438" width="1" height="95" fill="#000"/>
<rect x="1384" y="438" width="5" height="73" fill="#000"/>
<rect x="1394" y="445" width="1" height="79" fill="#000"/>
<rect x="1392" y="455" width="5" height="56" fill="#000"/>
<rect x="1393" y="456" width="3" height="54" fill="#fff"/>
<rect x="1402" y="435" width="1" height="37" fill="#000"/>
<rect x="1400" y="455" width="5" height="11" fill="#000"/>
<rect x="1410" y="454" width="1" height="7" fill="#000"/>
<rect x="1408" y="455" width="5" height="5" fill="#000"/>
<rect x="1409" y="456" width="3" height="3" fill="#fff"/>
<rect x="1418" y="450" width="1" height="27" fill="#000"/>
<rect x="1416" y="455" width="5" height="13" fill="#000"/>
<rect x="1426" y="448" width="1" height="28" fill="#000"/>
<rect x="1424" y="466" width="5" height="3" fill="#000"/>
<rect x="1425" y="467" width="3" height="1" fill="#fff"/>
<rect x="1434" y="425" width="1" height="78" fill="#000"/>
<rect x="1432" y="427" width="5" height="39" fill="#000"/>
<rect x="1433" y="428" width="3" height="37" fill="#fff"/>
<rect x="1442" y="350" width="1" height="89" fill="#000"/>
<rect x="1440" y="372" width="5" height="55" fill="#000"/>
<rect x="1441" y="373" width="3" height="53" fill="#fff"/>
<rect x="1450" y="363" width="1" height="23" fill="#000"/>
<rect x="1448" y="371" width="5" height="8" fill="#000"/>
<rect x="1458" y="364" width="1" height="19" fill="#000"/>
<rect x="1456" y="370" width="5" height="10" fill="#000"/>
<rect x="1457" y="371" width="3" height="8" fill="#fff"/>
</g>
<g shape-rendering="crispEdges" fill="#C0C0C0">
<rect x="2" y="644" width="1" height="5"/>
<rect x="10" y="644" width="1" height="3"/>
<rect x="18" y="644" width="1" height="1"/>
<rect x="34" y="644" width="1" height="2"/>
<rect x="42" y="644" width="1" height="15"/>
<rect x="50" y="644" width="1" height="35"/>
<rect x="58" y="644" width="1" height="50"/>
<rect x="66" y="644" width="1" height="62"/>
<rect x="74" y="644" width="1" height="68"/>
<rect x="82" y="644" width="1" height="78"/>
<rect x="90" y="644" width="1" height="88"/>
<rect x="98" y="644" width="1" height="102"/>
<rect x="106" y="644" width="1" height="116"/>
<rect x="114" y="644" width="1" height="124"/>
<rect x="122" y="644" width="1" height="126"/>
<rect x="130" y="644" width="1" height="126"/>
<rect x="138" y="644" width="1" height="124"/>
<rect x="146" y="644" width="1" height="118"/>
<rect x="154" y="644" width="1" height="112"/>
<rect x="162" y="644" width="1" height="106"/>
<rect x="170" y="644" width="1" height="102"/>
<rect x="178" y="644" width="1" height="97"/>
<rect x="186" y="644" width="1" height="80"/>
<rect x="194" y="644" width="1" height="62"/>
<rect x="202" y="644" width="1" height="48"/>
<rect x="210" y="644" width="1" height="36"/>
<rect x="218" y="644" width="1" height="29"/>
<rect x="226" y="644" width="1" height="22"/>
<rect x="234" y="644" width="1" height="8"/>
<rect x="242" y="643" width="1" height="1"/>
<rect x="250" y="633" width="1" height="11"/>
<rect x="258" y="626" width="1" height="18"/>
<rect x="266" y="623" width="1" height="21"/>
<rect x="274" y="620" width="1" height="24"/>
<rect x="282" y="615" width="1" height="29"/>
<rect x="290" y="608" width="1" height="36"/>
<rect x="298" y="606" width="1" height="38"/>
<rect x="306" y="604" width="1" height="40"/>
<rect x="314" y="605" width="1" height="39"/>
<rect x="322" y="615" width="1" height="29"/>
<rect x="330" y="620" width="1" height="24"/>
<rect x="338" y="626" width="1" height="18"/>
<rect x="346" y="627" width="1" height="17"/>
<rect x="354" y="628" width="1" height="16"/>
<rect x="362" y="630" width="1" height="14"/>
<rect x="370" y="633" width="1" height="11"/>
<rect x="378" y="630" width="1" height="14"/>
<rect x="386" y="625" width="1" height="19"/>
<rect x="394" y="623" width="1" height="21"/>
<rect x="402" y="622" width="1" height="22"/>
<rect x="410" y="623" width="1" height="21"/>
<rect x="418" y="626" width="1" height="18"/>
<rect x="426" y="624" width="1" height="20"/>
<rect x="434" y="621" width="1" height="23"/>
<rect x="442" y="622" width="1" height="22"/>
<rect x="450" y="622" width="1" height="22"/>
<rect x="458" y="620" width="1" height="24"/>
<rect x="466" y="617" width="1" height="27"/>
<rect x="474" y="618" width="1" height="26"/>
<rect x="482" y="620" width="1" height="24"/>
<rect x="490" y="627" width="1" height="17"/>
<rect x="498" y="632" width="1" height="12"/>
<rect x="506" y="635" width="1" height="9"/>
<rect x="514" y="640" width="1" height="4"/>
<rect x="522" y="637" width="1" height="7"/>
<rect x="530" y="639" width="1" height="5"/>
<rect x="538" y="642" width="1" height="2"/>
<rect x="562" y="643" width="1" height="1"/>
<rect x="570" y="640" width="1" height="4"/>
<rect x="578" y="635" width="1" height="9"/>
<rect x="586" y="628" width="1" height="16"/>
<rect x="594" y="622" width="1" height="22"/>
<rect x="602" y="618" width="1" height="26"/>
<rect x="610" y="610" width="1" height="34"/>
<rect x="618" y="602" width="1" height="42"/>
<rect x="626" y="601" width="1" height="43"/>
<rect x="634" y="602" width="1" height="42"/>
<rect x="642" y="604" width="1" height="40"/>
<rect x="650" y="604" width="1" height="40"/>
<rect x="658" y="598" width="1" height="46"/>
<rect x="666" y="590" width="1" height="54"/>
<rect x="674" y="584" width="1" height="60"/>
<rect x="682" y="580" width="1" height="64"/>
<rect x="690" y="576" width="1" height="68"/>
<rect x="698" y="579" width="1" height="65"/>
<rect x="706" y="579" width="1" height="65"/>
<rect x="714" y="582" width="1" height="62"/>
<rect x="722" y="586" width="1" height="58"/>
<rect x="730" y="589" width="1" height="55"/>
<rect x="738" y="591" width="1" height="53"/>
<rect x="746" y="589" width="1" height="55"/>
<rect x="754" y="586" width="1" height="58"/>
<rect x="762" y="578" width="1" height="66"/>
<rect x="770" y="574" width="1" height="70"/>
<rect x="778" y="575" width="1" height="69"/>
<rect x="786" y="576" width="1" height="68"/>
<rect x="794" y="575" width="1" height="69"/>
<rect x="802" y="581" width="1" height="63"/>
<rect x="810" y="590" width="1" height="54"/>
<rect x="818" y="587" width="1" height="57"/>
<rect x="826" y="584" width="1" height="60"/>
<rect x="834" y="583" width="1" height="61"/>
<rect x="842" y="580" width="1" height="64"/>
<rect x="850" y="582" width="1" height="62"/>
<rect x="858" y="586" width="1" height="58"/>
<rect x="866" y="589" width="1" height="55"/>
<rect x="874" y="595" width="1" height="49"/>
<rect x="882" y="600" width="1" height="44"/>
<rect x="890" y="604" width="1" height="40"/>
<rect x="898" y="610" width="1" height="34"/>
<rect x="906" y="615" width="1" height="29"/>
<rect x="914" y="625" width="1" height="19"/>
<rect x="922" y="630" width="1" height="14"/>
<rect x="930" y="634" width="1" height="10"/>
<rect x="938" y="635" width="1" height="9"/>
<rect x="946" y="634" width="1" height="10"/>
<rect x="954" y="639" width="1" height="5"/>
<rect x="962" y="640" width="1" height="4"/>
<rect x="970" y="642" width="1" height="2"/>
<rect x="978" y="643" width="1" height="1"/>
<rect x="986" y="643" width="1" height="1"/>
<rect x="994" y="642" width="1" height="2"/>
<rect x="1002" y="639" width="1" height="5"/>
<rect x="1010" y="640" width="1" height="4"/>
<rect x="1018" y="642" width="1" height="2"/>
<rect x="1026" y="643" width="1" height="1"/>
<rect x="1042" y="644" width="1" height="4"/>
<rect x="1050" y="644" width="1" height="9"/>
<rect x="1058" y="644" width="1" height="11"/>
<rect x="1066" y="644" width="1" height="14"/>
<rect x="1074" y="644" width="1" height="17"/>
<rect x="1082" y="644" width="1" height="16"/>
<rect x="1090" y="644" width="1" height="14"/>
<rect x="1098" y="644" width="1" height="12"/>
<rect x="1106" y="644" width="1" height="3"/>
<rect x="1122" y="640" width="1" height="4"/>
<rect x="1130" y="636" width="1" height="8"/>
<rect x="1138" y="634" width="1" height="10"/>
<rect x="1146" y="633" width="1" height="11"/>
<rect x="1154" y="644" width="1" height="1"/>
<rect x="1162" y="644" width="1" height="14"/>
<rect x="1170" y="644" width="1" height="24"/>
<rect x="1178" y="644" width="1" height="31"/>
<rect x="1186" y="644" width="1" height="41"/>
<rect x="1194" y="644" width="1" height="44"/>
<rect x="1202" y="644" width="1" height="47"/>
<rect x="1210" y="644" width="1" height="49"/>
<rect x="1218" y="644" width="1" height="53"/>
<rect x="1226" y="644" width="1" height="56"/>
<rect x="1234" y="644" width="1" height="56"/>
<rect x="1242" y="644" width="1" height="58"/>
<rect x="1250" y="644" width="1" height="63"/>
<rect x="1258" y="644" width="1" height="66"/>
<rect x="1266" y="644" width="1" height="68"/>
<rect x="1274" y="644" width="1" height="65"/>
<rect x="1282" y="644" width="1" height="63"/>
<rect x="1290" y="644" width="1" height="58"/>
<rect x="1298" y="644" width="1" height="53"/>
<rect x="1306" y="644" width="1" height="43"/>
<rect x="1314" y="644" width="1" height="34"/>
<rect x="1322" y="644" width="1" height="30"/>
<rect x="1330" y="644" width="1" height="28"/>
<rect x="1338" y="644" width="1" height="29"/>
<rect x="1346" y="644" width="1" height="52"/>
<rect x="1354" y="644" width="1" height="69"/>
<rect x="1362" y="644" width="1" height="78"/>
<rect x="1370" y="644" width="1" height="87"/>
<rect x="1378" y="644" width="1" height="92"/>
<rect x="1386" y="644" width="1" height="105"/>
<rect x="1394" y="644" width="1" height="106"/>
<rect x="1402" y="644" width="1" height="107"/>
<rect x="1410" y="644" width="1" height="106"/>
<rect x="1418" y="644" width="1" height="106"/>
<rect x="1426" y="644" width="1" height="103"/>
<rect x="1434" y="644" width="1" height="95"/>
<rect x="1442" y="644" width="1" height="78"/>
<rect x="1450" y="644" width="1" height="68"/>
<rect x="1458" y="644" width="1" height="58"/>
</g>
<path fill="none" stroke="#FF0000" stroke-width="1" stroke-dasharray="3 3" shape-rendering="crispEdges" d="M2,654.3 L10,653.4 L18,652.3 L26,651.1 L34,650.1 L42,650.6 L50,653.2 L58,657.6 L66,663.2 L74,670.2 L82,678.5 L90,688.2 L98,699.5 L106,712.2 L114,724.3 L122,734.3 L130,742.8 L138,749.7 L146,755.3 L154,759.1 L162,761.1 L170,761.1 L178,759.0 L186,754.1 L194,747.0 L202,738.4 L210,728.6 L218,718.7 L226,708.7 L234,697.7 L242,686.3 L250,674.3 L258,663.4 L266,654.2 L274,646.2 L282,638.9 L290,631.7 L298,625.0 L306,619.7 L314,615.5 L322,613.4 L330,612.7 L338,613.0 L346,613.8 L354,615.4 L362,617.9 L370,620.9 L378,623.8 L386,626.0 L394,626.9 L402,627.1 L410,626.8 L418,626.7 L426,626.3 L434,625.2 L442,624.0 L450,623.2 L458,622.7 L466,622.0 L474,621.6 L482,621.2 L490,621.3 L498,622.1 L506,623.6 L514,625.7 L522,627.3 L530,629.4 L538,632.2 L546,635.1 L554,637.9 L562,639.6 L570,640.6 L578,640.6 L586,639.2 L594,637.5 L602,635.1 L610,631.6 L618,626.9 L626,622.1 L634,617.6 L642,613.6 L650,610.1 L658,606.8 L666,603.3 L674,599.5 L682,596.2 L690,593.3 L698,590.8 L706,588.1 L714,585.7 L722,583.7 L730,582.7 L738,582.9 L746,583.5 L754,584.1 L762,584.4 L770,583.8 L778,583.4 L786,582.7 L794,581.4 L802,580.5 L810,580.4 L818,580.2 L826,580.0 L834,580.5 L842,581.3 L850,582.1 L858,583.3 L866,584.8 L874,586.5 L882,587.5 L890,589.4 L898,592.3 L906,595.9 L914,600.8 L922,606.1 L930,611.4 L938,616.5 L946,620.7 L954,625.1 L962,629.2 L970,632.7 L978,635.8 L986,637.8 L994,639.2 L1002,639.8 L1010,640.5 L1018,641.4 L1026,641.8 L1034,642.2 L1042,642.8 L1050,643.9 L1058,645.2 L1066,646.9 L1074,649.3 L1082,651.4 L1090,653.1 L1098,654.6 L1106,654.9 L1114,654.6 L1122,653.2 L1130,651.0 L1138,648.5 L1146,645.3 L1154,643.7 L1162,643.7 L1170,645.0 L1178,648.1 L1186,652.6 L1194,657.9 L1202,664.0 L1210,670.6 L1218,677.7 L1226,683.7 L1234,688.4 L1242,692.2 L1250,695.7 L1258,698.5 L1266,701.1 L1274,703.1 L1282,704.7 L1290,705.3 L1298,705.0 L1306,703.6 L1314,700.9 L1322,697.3 L1330,693.1 L1338,688.9 L1346,687.4 L1354,688.0 L1362,690.2 L1370,694.1 L1378,699.5 L1386,707.5 L1394,716.0 L1402,724.7 L1410,733.3 L1418,739.3 L1426,743.1 L1434,745.0 L1442,744.0 L1450,741.2 L1458,736.0"/>
<g shape-rendering="crispEdges">
<path d="M0,813.5 H1645" stroke="#C0C0C0" stroke-width="1" stroke-dasharray="3 3" fill="none"/>
<path d="M0,855.5 H1645" stroke="#C0C0C0" stroke-width="1" stroke-dasharray="3 3" fill="none"/>
<path d="M0,904.5 H1645" stroke="#C0C0C0" stroke-width="1" stroke-dasharray="3 3" fill="none"/>
</g>
<path fill="none" stroke="#1E90FF" stroke-width="1" shape-rendering="crispEdges" d="M-6,852 L2,850.2 L10,852.9 L18,854.1 L26,852.7 L34,862.1 L42,880.7 L50,889.3 L58,888.0 L66,887.0 L74,885.9 L82,889.8 L90,893.5 L98,898.9 L106,900.7 L114,896.4 L122,886.1 L130,887.8 L138,885.3 L146,878.3 L154,877.3 L162,878.0 L170,880.6 L178,877.8 L186,853.2 L194,846.6 L202,850.9 L210,847.1 L218,856.2 L226,850.1 L234,841.7 L242,842.9 L250,840.6 L258,842.5 L266,845.7 L274,843.0 L282,840.6 L290,836.3 L298,841.6 L306,841.0 L314,845.5 L322,860.2 L330,857.8 L338,859.2 L346,852.6 L354,851.9 L362,854.4 L370,854.8 L378,847.0 L386,840.6 L394,846.2 L402,845.5 L410,849.0 L418,855.2 L426,845.6 L434,843.9 L442,847.6 L450,849.5 L458,842.9 L466,840.0 L474,847.4 L482,849.0 L490,862.2 L498,860.6 L506,858.4 L514,862.5 L522,848.5 L530,856.0 L538,859.0 L546,863.8 L554,851.9 L562,850.0 L570,850.1 L578,843.4 L586,838.9 L594,837.2 L602,837.2 L610,830.5 L618,826.6 L626,840.1 L634,844.6 L642,845.8 L650,840.8 L658,833.0 L666,827.1 L674,826.3 L682,829.7 L690,827.1 L698,839.9 L706,835.9 L714,840.6 L722,843.5 L730,842.1 L738,841.2 L746,833.6 L754,830.4 L762,822.2 L770,830.0 L778,835.6 L786,835.7 L794,832.0 L802,844.9 L810,854.5 L818,837.6 L826,836.8 L834,838.0 L842,836.0 L850,841.5 L858,842.8 L866,843.1 L874,850.8 L882,849.6 L890,848.2 L898,854.7 L906,852.9 L914,865.1 L922,860.2 L930,858.8 L938,852.4 L946,850.5 L954,861.2 L962,855.0 L970,857.3 L978,858.1 L986,857.1 L994,855.5 L1002,843.4 L1010,856.5 L1018,858.3 L1026,857.4 L1034,856.1 L1042,863.8 L1050,867.6 L1058,865.7 L1066,866.1 L1074,867.8 L1082,861.5 L1090,855.5 L1098,859.4 L1106,840.8 L1114,847.0 L1122,843.9 L1130,845.4 L1138,847.5 L1146,848.0 L1154,877.8 L1162,876.0 L1170,877.5 L1178,878.0 L1186,883.6 L1194,873.5 L1202,873.5 L1210,876.7 L1218,878.6 L1226,879.1 L1234,875.4 L1242,878.2 L1250,886.0 L1258,884.1 L1266,884.1 L1274,875.6 L1282,878.8 L1290,864.3 L1298,861.8 L1306,853.6 L1314,850.1 L1322,860.6 L1330,862.0 L1338,867.1 L1346,891.7 L1354,888.2 L1362,886.8 L1370,887.8 L1378,886.1 L1386,893.5 L1394,878.8 L1402,880.1 L1410,877.3 L1418,879.0 L1426,878.5 L1434,868.0 L1442,856.1 L1450,857.5 L1458,855.6"/>
<g shape-rendering="crispEdges">
<rect x="50" y="926" width="1" height="4" fill="#000"/>
<rect x="114" y="926" width="1" height="4" fill="#000"/>
<rect x="178" y="926" width="1" height="4" fill="#000"/>
<rect x="242" y="926" width="1" height="4" fill="#000"/>
<rect x="306" y="926" width="1" height="4" fill="#000"/>
<rect x="370" y="926" width="1" height="4" fill="#000"/>
<rect x="434" y="926" width="1" height="4" fill="#000"/>
<rect x="498" y="926" width="1" height="4" fill="#000"/>
<rect x="562" y="926" width="1" height="4" fill="#000"/>
<rect x="626" y="926" width="1" height="4" fill="#000"/>
<rect x="690" y="926" width="1" height="4" fill="#000"/>
<rect x="754" y="926" width="1" height="4" fill="#000"/>
<rect x="818" y="926" width="1" height="4" fill="#000"/>
<rect x="882" y="926" width="1" height="4" fill="#000"/>
<rect x="946" y="926" width="1" height="4" fill="#000"/>
<rect x="1010" y="926" width="1" height="4" fill="#000"/>
<rect x="1074" y="926" width="1" height="4" fill="#000"/>
<rect x="1138" y="926" width="1" height="4" fill="#000"/>
<rect x="1202" y="926" width="1" height="4" fill="#000"/>
<rect x="1266" y="926" width="1" height="4" fill="#000"/>
<rect x="1330" y="926" width="1" height="4" fill="#000"/>
<rect x="1394" y="926" width="1" height="4" fill="#000"/>
<rect x="1458" y="926" width="1" height="4" fill="#000"/>
<rect x="1646" y="29" width="2" height="1" fill="#000"/>
<rect x="1646" y="62" width="2" height="1" fill="#000"/>
<rect x="1646" y="95" width="2" height="1" fill="#000"/>
<rect x="1646" y="128" width="2" height="1" fill="#000"/>
<rect x="1646" y="161" width="2" height="1" fill="#000"/>
<rect x="1646" y="194" width="2" height="1" fill="#000"/>
<rect x="1646" y="227" width="2" height="1" fill="#000"/>
<rect x="1646" y="260" width="2" height="1" fill="#000"/>
<rect x="1646" y="293" width="2" height="1" fill="#000"/>
<rect x="1646" y="326" width="2" height="1" fill="#000"/>
<rect x="1646" y="359" width="2" height="1" fill="#000"/>
<rect x="1646" y="392" width="2" height="1" fill="#000"/>
<rect x="1646" y="425" width="2" height="1" fill="#000"/>
<rect x="1646" y="458" width="2" height="1" fill="#000"/>
<rect x="1646" y="491" width="2" height="1" fill="#000"/>
<rect x="1646" y="524" width="2" height="1" fill="#000"/>
<rect x="1646" y="557" width="2" height="1" fill="#000"/>
<rect x="1646" y="644" width="2" height="1" fill="#000"/>
<rect x="1646" y="813" width="2" height="1" fill="#000"/>
<rect x="1646" y="855" width="2" height="1" fill="#000"/>
<rect x="1646" y="904" width="2" height="1" fill="#000"/>
</g>
<path d="M1106.0,80.7 L1245.4,303.6" stroke="#FF0000" stroke-width="3.3" fill="none"/>
<path d="M1251.0,312.5 L1240.3,304.4 L1248.4,299.4 Z" fill="#FF0000"/>
<path d="M1252.6,311.5 L1300.1,231.5" stroke="#FF0000" stroke-width="3.3" fill="none"/>
<path d="M1305.5,222.5 L1303.2,235.7 L1295.0,230.8 Z" fill="#FF0000"/>
<path d="M1305.5,222.5 L1388.9,523.9" stroke="#FF0000" stroke-width="3.3" fill="none"/>
<path d="M1391.7,534.0 L1383.8,523.2 L1392.9,520.7 Z" fill="#FF0000"/>
<path d="M1391.7,534.0 L1450.8,378.4" stroke="#FF0000" stroke-width="3.3" fill="none"/>
<path d="M1454.5,368.6 L1454.5,382.0 L1445.6,378.6 Z" fill="#FF0000"/>
<path d="M1410.4,753.6 L1467.3,703.3" stroke="#FF0000" stroke-width="3" fill="none"/>
<path d="M1474.0,697.3 L1468.7,708.0 L1462.8,701.2 Z" fill="#FF0000"/>
<path d="M1380.6,896.5 L1433.4,863.6" stroke="#FF0000" stroke-width="3" fill="none"/>
<path d="M1441.0,858.8 L1434.1,868.4 L1429.3,860.8 Z" fill="#FF0000"/>
<path d="M1441.0,858.8 L1461.0,857.4" stroke="#FF0000" stroke-width="3" fill="none"/>
<path d="M1469.0,856.8 L1459.3,862.0 L1458.7,853.0 Z" fill="#FF0000"/>
<g shape-rendering="crispEdges" stroke="#FF0000" fill="none">
<path d="M1097,74.5 H1106.5 V81"/>
<path d="M1305,211.5 H1314.5 V217"/>
<path d="M1436,349.5 H1442.5 V351"/>
<path d="M1377,532.5 H1386.5"/>
<path d="M1243,390.5 H1250"/>
</g>
<rect x="1442" y="350" width="1" height="22" fill="#000" shape-rendering="crispEdges"/>
<rect x="1035.5" y="66.5" width="62" height="17" fill="#fff" stroke="#FF0000" stroke-width="1" shape-rendering="crispEdges"/>
<rect x="1243.5" y="202.5" width="61" height="18" fill="#fff" stroke="#FF0000" stroke-width="1" shape-rendering="crispEdges"/>
<rect x="1371.5" y="341.5" width="61" height="18" fill="#fff" stroke="#FF0000" stroke-width="1" shape-rendering="crispEdges"/>
<rect x="1315.5" y="524.5" width="62" height="17" fill="#fff" stroke="#FF0000" stroke-width="1" shape-rendering="crispEdges"/>
<rect x="1253.5" y="378.5" width="73" height="24" fill="#fff" stroke="#FF0000" stroke-width="1" shape-rendering="crispEdges"/>
<rect x="1432.5" y="347.5" width="3" height="4" fill="#fff" stroke="#FF0000" shape-rendering="crispEdges"/>
<rect x="1250.5" y="388.5" width="3" height="3" fill="#fff" stroke="#FF0000" shape-rendering="crispEdges"/>
<path d="M1457,27 L1467,27 L1462,32 Z" fill="#C0C0C0"/>
</svg>
<div class="t" style="left:1651.50px;top:25.56px;font-size:9.0px;line-height:9.0px;color:#000;transform:scaleX(0.9929);transform-origin:left center;">1.38525</div>
<div class="t" style="left:1651.50px;top:58.56px;font-size:9.0px;line-height:9.0px;color:#000;transform:scaleX(0.9929);transform-origin:left center;">1.38245</div>
<div class="t" style="left:1651.50px;top:91.56px;font-size:9.0px;line-height:9.0px;color:#000;transform:scaleX(0.9929);transform-origin:left center;">1.37965</div>
<div class="t" style="left:1651.50px;top:124.56px;font-size:9.0px;line-height:9.0px;color:#000;transform:scaleX(0.9929);transform-origin:left center;">1.37680</div>
<div class="t" style="left:1651.50px;top:157.56px;font-size:9.0px;line-height:9.0px;color:#000;transform:scaleX(0.9929);transform-origin:left center;">1.37400</div>
<div class="t" style="left:1651.50px;top:190.56px;font-size:9.0px;line-height:9.0px;color:#000;transform:scaleX(0.9929);transform-origin:left center;">1.37120</div>
<div class="t" style="left:1651.50px;top:223.56px;font-size:9.0px;line-height:9.0px;color:#000;transform:scaleX(0.9929);transform-origin:left center;">1.36835</div>
<div class="t" style="left:1651.50px;top:256.56px;font-size:9.0px;line-height:9.0px;color:#000;transform:scaleX(0.9929);transform-origin:left center;">1.36555</div>
<div class="t" style="left:1651.50px;top:289.56px;font-size:9.0px;line-height:9.0px;color:#000;transform:scaleX(0.9929);transform-origin:left center;">1.36275</div>
<div class="t" style="left:1651.50px;top:322.56px;font-size:9.0px;line-height:9.0px;color:#000;transform:scaleX(0.9929);transform-origin:left center;">1.35990</div>
<div class="t" style="left:1651.50px;top:355.56px;font-size:9.0px;line-height:9.0px;color:#000;transform:scaleX(0.9929);transform-origin:left center;">1.35710</div>
<div class="t" style="left:1651.50px;top:388.56px;font-size:9.0px;line-height:9.0px;color:#000;transform:scaleX(0.9929);transform-origin:left center;">1.35430</div>
<div class="t" style="left:1651.50px;top:421.56px;font-size:9.0px;line-height:9.0px;color:#000;transform:scaleX(0.9929);transform-origin:left center;">1.35145</div>
<div class="t" style="left:1651.50px;top:454.56px;font-size:9.0px;line-height:9.0px;color:#000;transform:scaleX(0.9929);transform-origin:left center;">1.34865</div>
<div class="t" style="left:1651.50px;top:487.56px;font-size:9.0px;line-height:9.0px;color:#000;transform:scaleX(0.9929);transform-origin:left center;">1.34585</div>
<div class="t" style="left:1651.50px;top:520.56px;font-size:9.0px;line-height:9.0px;color:#000;transform:scaleX(0.9929);transform-origin:left center;">1.34300</div>
<div class="t" style="left:1651.50px;top:553.56px;font-size:9.0px;line-height:9.0px;color:#000;transform:scaleX(0.9929);transform-origin:left center;">1.34020</div>
<div class="t" style="left:1650.00px;top:565.66px;font-size:9.0px;line-height:9.0px;color:#000;">0.004177</div>
<div class="t" style="left:1650.00px;top:639.66px;font-size:9.0px;line-height:9.0px;color:#000;">0.00</div>
<div class="t" style="left:1649.00px;top:770.66px;font-size:9.0px;line-height:9.0px;color:#000;transform:scaleX(1.0116);transform-origin:left center;">-0.007153</div>
<div class="t" style="left:1649.00px;top:786.66px;font-size:9.0px;line-height:9.0px;color:#000;transform:scaleX(0.9657);transform-origin:left center;">100</div>
<div class="t" style="left:1648.00px;top:809.16px;font-size:9.0px;line-height:9.0px;color:#000;">80</div>
<div class="t" style="left:1648.00px;top:851.16px;font-size:9.0px;line-height:9.0px;color:#000;">50</div>
<div class="t" style="left:1648.00px;top:900.16px;font-size:9.0px;line-height:9.0px;color:#000;">15</div>
<div class="t" style="left:1649.00px;top:915.66px;font-size:9.0px;line-height:9.0px;color:#000;">0</div>
<svg width="1692" height="941" viewBox="0 0 1692 941">
<rect x="1647" y="315" width="41" height="11" fill="#FF4500" shape-rendering="crispEdges"/>
<rect x="1640.5" y="319.5" width="4" height="4" fill="#fff" stroke="#FF4500" shape-rendering="crispEdges"/>
<rect x="1647" y="341" width="41" height="11" fill="#FF0000" shape-rendering="crispEdges"/>
<rect x="1640.5" y="345.5" width="4" height="4" fill="#fff" stroke="#FF0000" shape-rendering="crispEdges"/>
<rect x="1647" y="365" width="41" height="11" fill="#000" shape-rendering="crispEdges"/>
<rect x="1647" y="384" width="41" height="11" fill="#32CD32" shape-rendering="crispEdges"/>
<rect x="1640.5" y="388.5" width="4" height="4" fill="#fff" stroke="#32CD32" shape-rendering="crispEdges"/>
<rect x="1647" y="406" width="41" height="11" fill="#0000FF" shape-rendering="crispEdges"/>
<rect x="1640.5" y="410.5" width="4" height="4" fill="#fff" stroke="#0000FF" shape-rendering="crispEdges"/>
<rect x="1647" y="431" width="41" height="11" fill="#0000FF" shape-rendering="crispEdges"/>
<rect x="1640.5" y="435.5" width="4" height="4" fill="#fff" stroke="#0000FF" shape-rendering="crispEdges"/>
</svg>
<svg width="1692" height="26" viewBox="0 0 1692 26" style="position:absolute;left:0;top:0">
<defs><linearGradient id="gold" x1="0" y1="0" x2="1" y2="1"><stop offset="0" stop-color="#f8d860"/><stop offset="0.6" stop-color="#e0a820"/><stop offset="1" stop-color="#a06810"/></linearGradient><linearGradient id="grn" x1="0" y1="0" x2="0" y2="1"><stop offset="0" stop-color="#30f050"/><stop offset="0.5" stop-color="#08e030"/><stop offset="1" stop-color="#08b020"/></linearGradient><radialGradient id="lens" cx="0.4" cy="0.35" r="0.7"><stop offset="0" stop-color="#f4fbff"/><stop offset="1" stop-color="#9fd0f0"/></radialGradient><radialGradient id="clk" cx="0.5" cy="0.4" r="0.6"><stop offset="0" stop-color="#ffffff"/><stop offset="1" stop-color="#d8e4f0"/></radialGradient><linearGradient id="redg" x1="0" y1="0" x2="0" y2="1"><stop offset="0" stop-color="#e8482c"/><stop offset="1" stop-color="#d02a14"/></linearGradient></defs>
<g fill="#111" shape-rendering="crispEdges"><rect x="3" y="15" width="1" height="1"/><rect x="2" y="16" width="1" height="1"/><rect x="4" y="16" width="1" height="1"/><rect x="3" y="17" width="1" height="1"/></g><rect x="3" y="16" width="1" height="1" fill="#fff"/>
<rect x="6" y="1" width="1" height="18" fill="#a0a0a0" shape-rendering="crispEdges"/><rect x="7" y="1" width="1" height="18" fill="#fff" shape-rendering="crispEdges"/>
<path d="M16.5,1.5 h7.5 l3.5,3.5 v9.5 h-11 z" fill="#fff" stroke="#8a8a8a" stroke-width="1"/><path d="M24,1.5 v3.5 h3.5" fill="none" stroke="#8a8a8a" stroke-width="1"/><rect x="18.5" y="3.5" width="3" height="1.2" fill="#666"/><rect x="18.5" y="7" width="6" height="1" fill="#aaa"/><rect x="18.5" y="9.3" width="4" height="1" fill="#aaa"/><rect x="18.5" y="11.6" width="3" height="1" fill="#aaa"/>
<path d="M24.4,7.5 h3.8 v3.8 h3.8 v3.8 h-3.8 v3.8 h-3.8 v-3.8 h-3.8 v-3.8 h3.8 z" fill="url(#grn)" stroke="#087a14" stroke-width="1"/>
<text x="34.6" y="12.25" font-family="'Liberation Sans','Noto Sans CJK SC',sans-serif" font-size="12.1" fill="#000">新订单</text>
<path d="M83.1,10.6 L91,16.2 L98.8,9.4 L98.8,11 L91.2,17.6 L83.1,12 Z" fill="#b07c18" stroke="#8a5c0c" stroke-width="0.5"/><path d="M89.4,2.2 L98.8,9.4 L91,16.2 L83.1,10.6 Z" fill="url(#gold)" stroke="#a87010" stroke-width="0.7"/><path d="M89.4,3.4 L86.2,7.6" stroke="#fff0a0" stroke-width="1" opacity="0.8"/>
<path d="M113.5,3 l4,-2 h7 v8 l-4,1.5 h-7 z" fill="#2f97f0" stroke="#1b6fd0" stroke-width="0.6"/><path d="M117.5,1.2 h7 v7.6 h-7 z" fill="#8fd0ff"/><rect x="119" y="4.5" width="4.5" height="1.3" fill="#fff"/><path d="M113.5,16.5 a2.6,2.6 0 0 1 0.4,-5.1 a3.6,3.6 0 0 1 6.6,-1.2 a2.6,2.6 0 0 1 3.6,1.5 a2.5,2.5 0 0 1 0.4,4.8 z" fill="#f4f8ff" stroke="#6a86c8" stroke-width="0.9"/>
<g fill="none" stroke-width="1.3"><path d="M147.2,0.9 a7.4,7.4 0 0 0 0,14.8" stroke="#9ab4e8"/><path d="M147.2,3.8 a4.5,4.5 0 0 0 0,9" stroke="#5f86dc"/><path d="M147.2,0.9 a7.4,7.4 0 0 1 0,14.8" stroke="#9fd0a0"/><path d="M147.2,3.8 a4.5,4.5 0 0 1 0,9" stroke="#58b060"/></g><circle cx="147.2" cy="8.3" r="2" fill="#2a5cd0"/><rect x="146.6" y="8.3" width="1.6" height="8" fill="#28a838"/><path d="M147.4,16.3 a7.5,7.5 0 0 0 6.5,-4.5 l-2,-0.5 a5,5 0 0 1 -4.5,3.2 z" fill="#48b050"/>
<path d="M167,9 L179.5,9 L175,16.2 L172,16.2 Z" fill="#f4cc38" stroke="#d0a020" stroke-width="0.6"/><ellipse cx="174" cy="6.3" rx="8" ry="2.8" fill="#4a98d8" stroke="#2c70b8" stroke-width="0.6"/><path d="M169.5,6 a4.6,4.8 0 0 1 9,0 z" fill="#5aa8e4" stroke="#2c70b8" stroke-width="0.6"/><circle cx="178.6" cy="12.8" r="3.9" fill="#d42814"/><rect x="177.2" y="11.4" width="2.8" height="2.8" fill="#fff"/>
<text x="187.5" y="12.35" font-family="'Liberation Sans','Noto Sans CJK SC',sans-serif" font-size="12.1" letter-spacing="-0.45" fill="#000">自动交易</text>
<rect x="242" y="1" width="1" height="18" fill="#a0a0a0" shape-rendering="crispEdges"/><rect x="243" y="1" width="1" height="18" fill="#fff" shape-rendering="crispEdges"/>
<rect x="246" y="2" width="3" height="1" fill="#b4b4b4" shape-rendering="crispEdges"/>
<rect x="246" y="4" width="3" height="1" fill="#b4b4b4" shape-rendering="crispEdges"/>
<rect x="246" y="6" width="3" height="1" fill="#b4b4b4" shape-rendering="crispEdges"/>
<rect x="246" y="8" width="3" height="1" fill="#b4b4b4" shape-rendering="crispEdges"/>
<rect x="246" y="10" width="3" height="1" fill="#b4b4b4" shape-rendering="crispEdges"/>
<rect x="246" y="12" width="3" height="1" fill="#b4b4b4" shape-rendering="crispEdges"/>
<rect x="246" y="14" width="3" height="1" fill="#b4b4b4" shape-rendering="crispEdges"/>
<rect x="246" y="16" width="3" height="1" fill="#b4b4b4" shape-rendering="crispEdges"/>
<rect x="246" y="18" width="3" height="1" fill="#b4b4b4" shape-rendering="crispEdges"/>
<g stroke="#505050" stroke-width="1" fill="none" shape-rendering="crispEdges"><path d="M261.0,3 V17 M257.5,14.5 H270.5"/></g><path d="M261.0,1.8 l-1.7,2.4 h3.4 z M272.0,14.5 l-2.4,-1.7 v3.4 z" fill="#505050"/>
<path d="M268,4.5 h-2.5 v8 h-2" fill="none" stroke="#189028" stroke-width="1.5"/>
<rect x="280" y="1" width="1" height="18" fill="#a0a0a0" shape-rendering="crispEdges"/><rect x="281" y="1" width="1" height="18" fill="#fff" shape-rendering="crispEdges"/>
<rect x="282" y="0" width="23" height="19" fill="#f8f8f8"/>
<g stroke="#505050" stroke-width="1" fill="none" shape-rendering="crispEdges"><path d="M289.3,3 V17 M285.8,14.5 H298.8"/></g><path d="M289.3,1.8 l-1.7,2.4 h3.4 z M300.3,14.5 l-2.4,-1.7 v3.4 z" fill="#505050"/>
<rect x="294.2" y="1.5" width="1.2" height="12" fill="#107020"/><rect x="292.3" y="3.5" width="5" height="7.5" fill="#30d040" stroke="#107020" stroke-width="0.8"/>
<g stroke="#505050" stroke-width="1" fill="none" shape-rendering="crispEdges"><path d="M317.4,3 V17 M313.9,14.5 H326.9"/></g><path d="M317.4,1.8 l-1.7,2.4 h3.4 z M328.4,14.5 l-2.4,-1.7 v3.4 z" fill="#505050"/>
<path d="M315.5,12 C318,6 321,5 323,6.5 S326,9 327,10.5" fill="none" stroke="#189028" stroke-width="1.4"/>
<rect x="337" y="1" width="1" height="18" fill="#a0a0a0" shape-rendering="crispEdges"/><rect x="338" y="1" width="1" height="18" fill="#fff" shape-rendering="crispEdges"/>
<path d="M355,11.5 l6,5.5" stroke="#c89820" stroke-width="3" stroke-linecap="round"/><circle cx="352" cy="7.3" r="5.2" fill="url(#lens)" stroke="#5a9ad8" stroke-width="1.3"/><rect x="349" y="6.5" width="6" height="1.8" fill="#2f6fc8"/>
<rect x="351.1" y="4.3" width="1.8" height="6" fill="#2f6fc8"/>
<path d="M383,11.5 l6,5.5" stroke="#c89820" stroke-width="3" stroke-linecap="round"/><circle cx="380" cy="7.3" r="5.2" fill="url(#lens)" stroke="#5a9ad8" stroke-width="1.3"/><rect x="377" y="6.5" width="6" height="1.8" fill="#2f6fc8"/>
<rect x="402" y="1.5" width="7.7" height="7.3" fill="#58a828"/><rect x="403.3" y="4.5" width="5.1" height="3" fill="#eaf2ff"/>
<rect x="410.5" y="1.5" width="7.7" height="7.3" fill="#2858c8"/><rect x="411.8" y="4.5" width="5.1" height="3" fill="#eaf2ff"/>
<rect x="402" y="9.5" width="7.7" height="7.3" fill="#2858c8"/><rect x="403.3" y="12.5" width="5.1" height="3" fill="#eaf2ff"/>
<rect x="410.5" y="9.5" width="7.7" height="7.3" fill="#58a828"/><rect x="411.8" y="12.5" width="5.1" height="3" fill="#eaf2ff"/>
<rect x="427" y="1" width="1" height="18" fill="#a0a0a0" shape-rendering="crispEdges"/><rect x="428" y="1" width="1" height="18" fill="#fff" shape-rendering="crispEdges"/>
<rect x="432" y="1" width="1" height="18" fill="#a0a0a0" shape-rendering="crispEdges"/><rect x="433" y="1" width="1" height="18" fill="#fff" shape-rendering="crispEdges"/>
<g stroke="#505050" stroke-width="1" fill="none" shape-rendering="crispEdges"><path d="M441.5,3 V17 M438,14.5 H451"/></g><path d="M441.5,1.8 l-1.7,2.4 h3.4 z M452.5,14.5 l-2.4,-1.7 v3.4 z" fill="#505050"/>
<path d="M445.5,5 l4.5,3.5 l-4.5,3.5 z" fill="#20b030"/>
<rect x="460" y="1" width="1" height="18" fill="#a0a0a0" shape-rendering="crispEdges"/><rect x="461" y="1" width="1" height="18" fill="#fff" shape-rendering="crispEdges"/>
<g stroke="#505050" stroke-width="1" fill="none" shape-rendering="crispEdges"><path d="M469.5,3 V17 M466,14.5 H479"/></g><path d="M469.5,1.8 l-1.7,2.4 h3.4 z M480.5,14.5 l-2.4,-1.7 v3.4 z" fill="#505050"/>
<rect x="474" y="3" width="1.3" height="10.5" fill="#2078c0"/><path d="M480,8.5 h-3.5 M478,6.8 l-2,1.7 l2,1.7" stroke="#d83010" stroke-width="1.2" fill="none"/>
<rect x="489" y="1" width="1" height="18" fill="#a0a0a0" shape-rendering="crispEdges"/><rect x="490" y="1" width="1" height="18" fill="#fff" shape-rendering="crispEdges"/>
<path d="M499.5,2 h6 l3,3 v9.5 h-9 z" fill="#fff" stroke="#8a8a8a"/><path d="M502.5,4.5 q-1,4 0,8" stroke="#555" fill="none" stroke-width="0.9"/><path d="M507.4,7.5 h3.6 v3.8 h3.8 v3.6 h-3.8 v3.8 h-3.6 v-3.8 h-3.8 v-3.6 h3.8 z" fill="url(#grn)" stroke="#087a14" stroke-width="1"/>
<path d="M521,8.5 h5 l-2.5,3 z" fill="#000"/>
<circle cx="545" cy="8.6" r="7.4" fill="#2a66c8"/><circle cx="545" cy="8.6" r="5.1" fill="url(#clk)"/><path d="M545,4.5 V9 H548.3" stroke="#444" stroke-width="1.1" fill="none"/>
<path d="M560,8.5 h5 l-2.5,3 z" fill="#000"/>
<rect x="576.5" y="2" width="15.5" height="13.5" fill="#f4f8ff" stroke="#3a70c8" stroke-width="1.2"/><rect x="576.5" y="2" width="15.5" height="2.2" fill="#3a70c8"/><path d="M578.5,8 l3,-1 l2,0.8 l3,-1.6 l3.5,-0.4" stroke="#c02818" fill="none" stroke-width="1.1"/><path d="M578.5,13 l3,-0.8 l2,1 l3,-2 l3.5,1.5" stroke="#189028" fill="none" stroke-width="1.1"/>
<path d="M599,8.5 h5 l-2.5,3 z" fill="#000"/>
<rect x="610" y="1" width="1" height="18" fill="#a0a0a0" shape-rendering="crispEdges"/><rect x="611" y="1" width="1" height="18" fill="#fff" shape-rendering="crispEdges"/>
<rect x="614" y="2" width="3" height="1" fill="#b4b4b4" shape-rendering="crispEdges"/>
<rect x="614" y="4" width="3" height="1" fill="#b4b4b4" shape-rendering="crispEdges"/>
<rect x="614" y="6" width="3" height="1" fill="#b4b4b4" shape-rendering="crispEdges"/>
<rect x="614" y="8" width="3" height="1" fill="#b4b4b4" shape-rendering="crispEdges"/>
<rect x="614" y="10" width="3" height="1" fill="#b4b4b4" shape-rendering="crispEdges"/>
<rect x="614" y="12" width="3" height="1" fill="#b4b4b4" shape-rendering="crispEdges"/>
<rect x="614" y="14" width="3" height="1" fill="#b4b4b4" shape-rendering="crispEdges"/>
<rect x="614" y="16" width="3" height="1" fill="#b4b4b4" shape-rendering="crispEdges"/>
<rect x="614" y="18" width="3" height="1" fill="#b4b4b4" shape-rendering="crispEdges"/>
<rect x="621" y="0" width="24" height="19" fill="#f8f8f8"/>
<path d="M628,2.5 V15 L631,12.3 L633.2,16.6 L635,15.8 L632.9,11.6 L636.8,11.3 Z" fill="#555"/>
<g stroke="#555" stroke-width="1" shape-rendering="crispEdges"><path d="M660.5,2 V8 M660.5,11 V17 M653,9.5 H659 M662,9.5 H668"/></g>
<rect x="677" y="1" width="1" height="18" fill="#a0a0a0" shape-rendering="crispEdges"/><rect x="678" y="1" width="1" height="18" fill="#fff" shape-rendering="crispEdges"/>
<g stroke="#555" stroke-width="1.1" shape-rendering="crispEdges"><path d="M694.5,3.5 V15.5 M717,9.5 H729"/></g>
<path d="M744.5,15.5 L757,4" stroke="#555" stroke-width="1.2"/>
<g stroke="#555" stroke-width="1"><path d="M771.5,14 L784,3.5 M772.5,17 L785,8"/><path d="M774,9 l3,4 M777,7 l3,4 M780,5 l3,4" stroke-width="0.8"/></g>
<text x="781.5" y="17.5" font-family="Liberation Sans, sans-serif" font-size="6.5" font-weight="bold" fill="#444">E</text>
<g stroke="#666" stroke-width="1" stroke-dasharray="1 1" shape-rendering="crispEdges"><path d="M800,2.5 H813 M800,6.5 H813 M800,9.5 H813 M800,13.5 H808"/></g>
<text x="809.5" y="17.5" font-family="Liberation Sans, sans-serif" font-size="6.5" font-weight="bold" fill="#444">F</text>
<text x="830.2" y="14" font-family="Liberation Sans, sans-serif" font-size="12.5" fill="#555">A</text>
<rect x="857" y="3" width="11.5" height="12.5" fill="none" stroke="#666" stroke-dasharray="1 1" shape-rendering="crispEdges"/><text x="859.2" y="14" font-family="Liberation Sans, sans-serif" font-size="11" fill="#555">T</text>
<path d="M886,3.5 l3,-2.3 l3,2.3 l-3,2.3 z M893,13.5 l3,-2.3 l3,2.3 l-3,2.3 z" fill="#555"/><path d="M885.5,8.5 l2.5,3 l5,-5" fill="none" stroke="#555" stroke-width="1.5"/>
<path d="M904.5,8.5 h5 l-2.5,3 z" fill="#000"/>
<rect x="916" y="1" width="1" height="18" fill="#a0a0a0" shape-rendering="crispEdges"/><rect x="917" y="1" width="1" height="18" fill="#fff" shape-rendering="crispEdges"/>
<rect x="920" y="2" width="3" height="1" fill="#b4b4b4" shape-rendering="crispEdges"/>
<rect x="920" y="4" width="3" height="1" fill="#b4b4b4" shape-rendering="crispEdges"/>
<rect x="920" y="6" width="3" height="1" fill="#b4b4b4" shape-rendering="crispEdges"/>
<rect x="920" y="8" width="3" height="1" fill="#b4b4b4" shape-rendering="crispEdges"/>
<rect x="920" y="10" width="3" height="1" fill="#b4b4b4" shape-rendering="crispEdges"/>
<rect x="920" y="12" width="3" height="1" fill="#b4b4b4" shape-rendering="crispEdges"/>
<rect x="920" y="14" width="3" height="1" fill="#b4b4b4" shape-rendering="crispEdges"/>
<rect x="920" y="16" width="3" height="1" fill="#b4b4b4" shape-rendering="crispEdges"/>
<rect x="920" y="18" width="3" height="1" fill="#b4b4b4" shape-rendering="crispEdges"/>
<rect x="1067" y="0" width="24" height="19" fill="#f8f8f8"/>
<rect x="1066" y="1" width="1" height="18" fill="#a0a0a0" shape-rendering="crispEdges"/><rect x="1067" y="1" width="1" height="18" fill="#fff" shape-rendering="crispEdges"/>
<rect x="1177" y="1" width="1" height="18" fill="#a0a0a0" shape-rendering="crispEdges"/><rect x="1178" y="1" width="1" height="18" fill="#fff" shape-rendering="crispEdges"/>
<circle cx="1647.6" cy="6.4" r="3.9" fill="#fff" stroke="#2a62d0" stroke-width="1.5"/><path d="M1644.8,9.4 L1639.8,14" stroke="#2a62d0" stroke-width="2.4" stroke-linecap="round"/>
<ellipse cx="1670.5" cy="11.5" rx="6" ry="4.8" fill="#e4e8ee" stroke="#b8bcc4" stroke-width="0.8"/><path d="M1667,15 l0.5,3 l3,-2.4 z" fill="#d0d4da"/>
<circle cx="1678.6" cy="6.6" r="8.2" fill="url(#redg)"/>
<text x="1674.4" y="11.6" font-family="Liberation Sans, sans-serif" font-size="14" fill="#fff">1</text>
</svg>
<div style="position:absolute;left:0;top:45px;width:41px;height:25px;background:linear-gradient(#5656ff,#3a3aea);"></div>
<div style="position:absolute;left:156px;top:45px;width:52px;height:25px;background:linear-gradient(#5656ff,#3a3aea);"></div>
<div style="position:absolute;left:0;top:70px;width:98px;height:32px;background:linear-gradient(#3a3ae4 0,#2020cc 40%,#0000a6 100%);"></div>
<div style="position:absolute;left:100px;top:70px;width:108px;height:32px;background:linear-gradient(#3a3ae4 0,#2020cc 40%,#0000a6 100%);"></div>
<div style="position:absolute;left:40px;top:45px;width:1px;height:25px;background:#1a1ac0;"></div>
<div style="position:absolute;left:207px;top:45px;width:1px;height:57px;background:#1616b8;"></div>
<div style="position:absolute;left:156px;top:45px;width:1px;height:25px;background:#2a2ad8;"></div>
<div style="position:absolute;left:0;top:69px;width:37px;height:1px;background:#7c7cf4;"></div>
<div style="position:absolute;left:160px;top:69px;width:44px;height:1px;background:#7c7cf4;"></div>
<div style="position:absolute;left:41px;top:45px;width:115px;height:25px;background:#fff;"></div>
<div style="position:absolute;left:43px;top:45px;width:111px;height:22px;background:#fff;border:1px solid #a9a9a9;box-sizing:border-box;"></div>
<div style="position:absolute;left:44px;top:46px;width:20px;height:20px;background:linear-gradient(#ececec 0,#e6e6e6 45%,#d4d4d4 55%,#cfcfcf 100%);border-right:1px solid #a9a9a9;box-sizing:border-box;"></div>
<div style="position:absolute;left:133px;top:46px;width:20px;height:20px;background:linear-gradient(#ececec 0,#e6e6e6 45%,#d4d4d4 55%,#cfcfcf 100%);border-left:1px solid #a9a9a9;box-sizing:border-box;"></div>
<svg width="220" height="110" viewBox="0 0 220 110" style="position:absolute;left:0;top:0"><path d="M50.8,54.2 L55.8,54.2 L53.3,57 Z" fill="#4a5fc4"/><path d="M140,57.2 L145.2,57.2 L142.6,54.2 Z" fill="#4a5fc4"/></svg>
<div class="t" style="left:1651.50px;top:316.56px;font-size:9.0px;line-height:9.0px;color:#fff;transform:scaleX(0.9929);transform-origin:left center;">1.36036</div>
<div class="t" style="left:1651.50px;top:342.56px;font-size:9.0px;line-height:9.0px;color:#fff;transform:scaleX(0.9929);transform-origin:left center;">1.35815</div>
<div class="t" style="left:1651.50px;top:366.56px;font-size:9.0px;line-height:9.0px;color:#fff;transform:scaleX(0.9929);transform-origin:left center;">1.35616</div>
<div class="t" style="left:1651.50px;top:385.56px;font-size:9.0px;line-height:9.0px;color:#fff;transform:scaleX(0.9929);transform-origin:left center;">1.35449</div>
<div class="t" style="left:1651.50px;top:407.56px;font-size:9.0px;line-height:9.0px;color:#fff;transform:scaleX(0.9929);transform-origin:left center;">1.35261</div>
<div class="t" style="left:1651.50px;top:432.56px;font-size:9.0px;line-height:9.0px;color:#fff;transform:scaleX(0.9929);transform-origin:left center;">1.35048</div>
<div class="t" style="left:50.00px;top:931.16px;font-size:9.0px;line-height:9.0px;color:#000;transform:scaleX(1.0400);transform-origin:left center;">28 Sep 12:00</div>
<div class="t" style="left:114.00px;top:931.16px;font-size:9.0px;line-height:9.0px;color:#000;transform:scaleX(1.0400);transform-origin:left center;">29 Sep 20:00</div>
<div class="t" style="left:178.00px;top:931.16px;font-size:9.0px;line-height:9.0px;color:#000;transform:scaleX(1.0400);transform-origin:left center;">1 Oct 04:00</div>
<div class="t" style="left:242.00px;top:931.16px;font-size:9.0px;line-height:9.0px;color:#000;transform:scaleX(1.0400);transform-origin:left center;">4 Oct 12:00</div>
<div class="t" style="left:306.00px;top:931.16px;font-size:9.0px;line-height:9.0px;color:#000;transform:scaleX(1.0400);transform-origin:left center;">5 Oct 20:00</div>
<div class="t" style="left:370.00px;top:931.16px;font-size:9.0px;line-height:9.0px;color:#000;transform:scaleX(1.0400);transform-origin:left center;">7 Oct 04:00</div>
<div class="t" style="left:434.00px;top:931.16px;font-size:9.0px;line-height:9.0px;color:#000;transform:scaleX(1.0400);transform-origin:left center;">8 Oct 12:00</div>
<div class="t" style="left:498.00px;top:931.16px;font-size:9.0px;line-height:9.0px;color:#000;transform:scaleX(1.0400);transform-origin:left center;">11 Oct 20:00</div>
<div class="t" style="left:562.00px;top:931.16px;font-size:9.0px;line-height:9.0px;color:#000;transform:scaleX(1.0400);transform-origin:left center;">13 Oct 04:00</div>
<div class="t" style="left:626.00px;top:931.16px;font-size:9.0px;line-height:9.0px;color:#000;transform:scaleX(1.0400);transform-origin:left center;">14 Oct 12:00</div>
<div class="t" style="left:690.00px;top:931.16px;font-size:9.0px;line-height:9.0px;color:#000;transform:scaleX(1.0400);transform-origin:left center;">17 Oct 23:00</div>
<div class="t" style="left:754.00px;top:931.16px;font-size:9.0px;line-height:9.0px;color:#000;transform:scaleX(1.0400);transform-origin:left center;">19 Oct 04:00</div>
<div class="t" style="left:818.00px;top:931.16px;font-size:9.0px;line-height:9.0px;color:#000;transform:scaleX(1.0400);transform-origin:left center;">20 Oct 12:00</div>
<div class="t" style="left:882.00px;top:931.16px;font-size:9.0px;line-height:9.0px;color:#000;transform:scaleX(1.0400);transform-origin:left center;">21 Oct 20:00</div>
<div class="t" style="left:946.00px;top:931.16px;font-size:9.0px;line-height:9.0px;color:#000;transform:scaleX(1.0400);transform-origin:left center;">25 Oct 04:00</div>
<div class="t" style="left:1010.00px;top:931.16px;font-size:9.0px;line-height:9.0px;color:#000;transform:scaleX(1.0400);transform-origin:left center;">26 Oct 12:00</div>
<div class="t" style="left:1074.00px;top:931.16px;font-size:9.0px;line-height:9.0px;color:#000;transform:scaleX(1.0400);transform-origin:left center;">27 Oct 20:00</div>
<div class="t" style="left:1138.00px;top:931.16px;font-size:9.0px;line-height:9.0px;color:#000;transform:scaleX(1.0400);transform-origin:left center;">29 Oct 04:00</div>
<div class="t" style="left:1202.00px;top:931.16px;font-size:9.0px;line-height:9.0px;color:#000;transform:scaleX(1.0400);transform-origin:left center;">1 Nov 12:00</div>
<div class="t" style="left:1266.00px;top:931.16px;font-size:9.0px;line-height:9.0px;color:#000;transform:scaleX(1.0400);transform-origin:left center;">2 Nov 20:00</div>
<div class="t" style="left:1330.00px;top:931.16px;font-size:9.0px;line-height:9.0px;color:#000;transform:scaleX(1.0400);transform-origin:left center;">4 Nov 04:00</div>
<div class="t" style="left:1394.00px;top:931.16px;font-size:9.0px;line-height:9.0px;color:#000;transform:scaleX(1.0400);transform-origin:left center;">5 Nov 12:00</div>
<div class="t" style="left:1458.00px;top:931.16px;font-size:9.0px;line-height:9.0px;color:#000;transform:scaleX(1.0400);transform-origin:left center;">8 Nov 20:00</div>
<div class="t" style="left:-15.00px;top:931.16px;font-size:9.0px;line-height:9.0px;color:#000;transform:scaleX(1.0400);transform-origin:left center;">27 Sep 2021</div>
<div class="t" style="left:1.00px;top:29.96px;font-size:9.0px;line-height:9.0px;color:#000;transform:scaleX(1.0332);transform-origin:left center;">GBPUSD-,H4&nbsp; 1.35543 1.35673 1.35514 1.35616</div>
<div class="t" style="left:-7.60px;top:567.16px;font-size:9.0px;line-height:9.0px;color:#000;transform:scaleX(1.0190);transform-origin:left center;">MACD(12,26,9) -0.003069 -0.004856</div>
<div class="t" style="left:-7.30px;top:788.16px;font-size:9.0px;line-height:9.0px;color:#000;transform:scaleX(0.9873);transform-origin:left center;">RSI(14) 49.6753</div>
<div class="t" style="left:1039.00px;top:67.29px;font-size:16px;line-height:16px;color:#FF0000;-webkit-text-stroke:0;transform:scaleX(0.9856);transform-origin:left center;">1.38144</div>
<div class="t" style="left:1246.50px;top:203.79px;font-size:16px;line-height:16px;color:#FF0000;-webkit-text-stroke:0;transform:scaleX(0.9856);transform-origin:left center;">1.36974</div>
<div class="t" style="left:1374.00px;top:342.79px;font-size:16px;line-height:16px;color:#FF0000;-webkit-text-stroke:0;transform:scaleX(0.9856);transform-origin:left center;">1.35789</div>
<div class="t" style="left:1318.00px;top:525.29px;font-size:16px;line-height:16px;color:#FF0000;-webkit-text-stroke:0;transform:scaleX(0.9856);transform-origin:left center;">1.34239</div>
<div class="t" style="left:1256.00px;top:380.38px;font-size:21px;line-height:21px;color:#FF0000;-webkit-text-stroke:0;transform:scaleX(0.9051);transform-origin:left center;">1.35449</div>
<div class="t" style="left:931.00px;top:4.88px;font-size:9.8px;line-height:9.8px;color:#585858;transform:scaleX(1.0358);transform-origin:left center;">M1</div>
<div class="t" style="left:958.80px;top:4.88px;font-size:9.8px;line-height:9.8px;color:#585858;transform:scaleX(1.0505);transform-origin:left center;">M5</div>
<div class="t" style="left:985.10px;top:4.88px;font-size:9.8px;line-height:9.8px;color:#585858;transform:scaleX(0.9705);transform-origin:left center;">M15</div>
<div class="t" style="left:1012.90px;top:4.88px;font-size:9.8px;line-height:9.8px;color:#585858;transform:scaleX(0.9810);transform-origin:left center;">M30</div>
<div class="t" style="left:1043.80px;top:4.88px;font-size:9.8px;line-height:9.8px;color:#585858;transform:scaleX(1.0617);transform-origin:left center;">H1</div>
<div class="t" style="left:1070.80px;top:4.88px;font-size:9.8px;line-height:9.8px;color:#585858;transform:scaleX(1.0856);transform-origin:left center;">H4</div>
<div class="t" style="left:1099.80px;top:4.88px;font-size:9.8px;line-height:9.8px;color:#585858;transform:scaleX(1.0457);transform-origin:left center;">D1</div>
<div class="t" style="left:1127.40px;top:4.88px;font-size:9.8px;line-height:9.8px;color:#585858;transform:scaleX(1.0136);transform-origin:left center;">W1</div>
<div class="t" style="left:1154.00px;top:4.88px;font-size:9.8px;line-height:9.8px;color:#585858;transform:scaleX(1.0236);transform-origin:left center;">MN</div>
<div class="t" style="left:1.20px;top:51.11px;font-size:11.4px;line-height:11.4px;color:#fff;transform:scaleX(0.9431);transform-origin:left center;">SELL</div>
<div class="t" style="left:169.00px;top:51.21px;font-size:11.4px;line-height:11.4px;color:#fff;transform:scaleX(1.0452);transform-origin:left center;">BUY</div>
<div class="t" style="left:104.80px;top:50.35px;font-size:11.3px;line-height:11.3px;color:#1a1000;transform:scaleX(1.0823);transform-origin:left center;">1.00</div>
<div class="t" style="left:8.90px;top:86.57px;font-size:12.5px;line-height:12.5px;color:#fff;font-weight:bold;-webkit-text-stroke:0;transform:scaleX(0.9866);transform-origin:left center;">1.35</div>
<div class="t" style="left:36.00px;top:68.71px;font-size:33.8px;line-height:33.8px;color:#fff;-webkit-text-stroke:0;transform:scaleX(0.9710);transform-origin:left center;">61</div>
<div class="t" style="left:75.60px;top:70.57px;font-size:12.5px;line-height:12.5px;color:#fff;font-weight:bold;-webkit-text-stroke:0;">6</div>
<div class="t" style="left:118.70px;top:86.88px;font-size:12.5px;line-height:12.5px;color:#fff;font-weight:bold;-webkit-text-stroke:0;transform:scaleX(0.9866);transform-origin:left center;">1.35</div>
<div class="t" style="left:147.60px;top:68.81px;font-size:33.8px;line-height:33.8px;color:#fff;-webkit-text-stroke:0;transform:scaleX(0.9364);transform-origin:left center;">64</div>
<div class="t" style="left:186.80px;top:70.67px;font-size:12.5px;line-height:12.5px;color:#fff;font-weight:bold;-webkit-text-stroke:0;">2</div>

</body></html>
